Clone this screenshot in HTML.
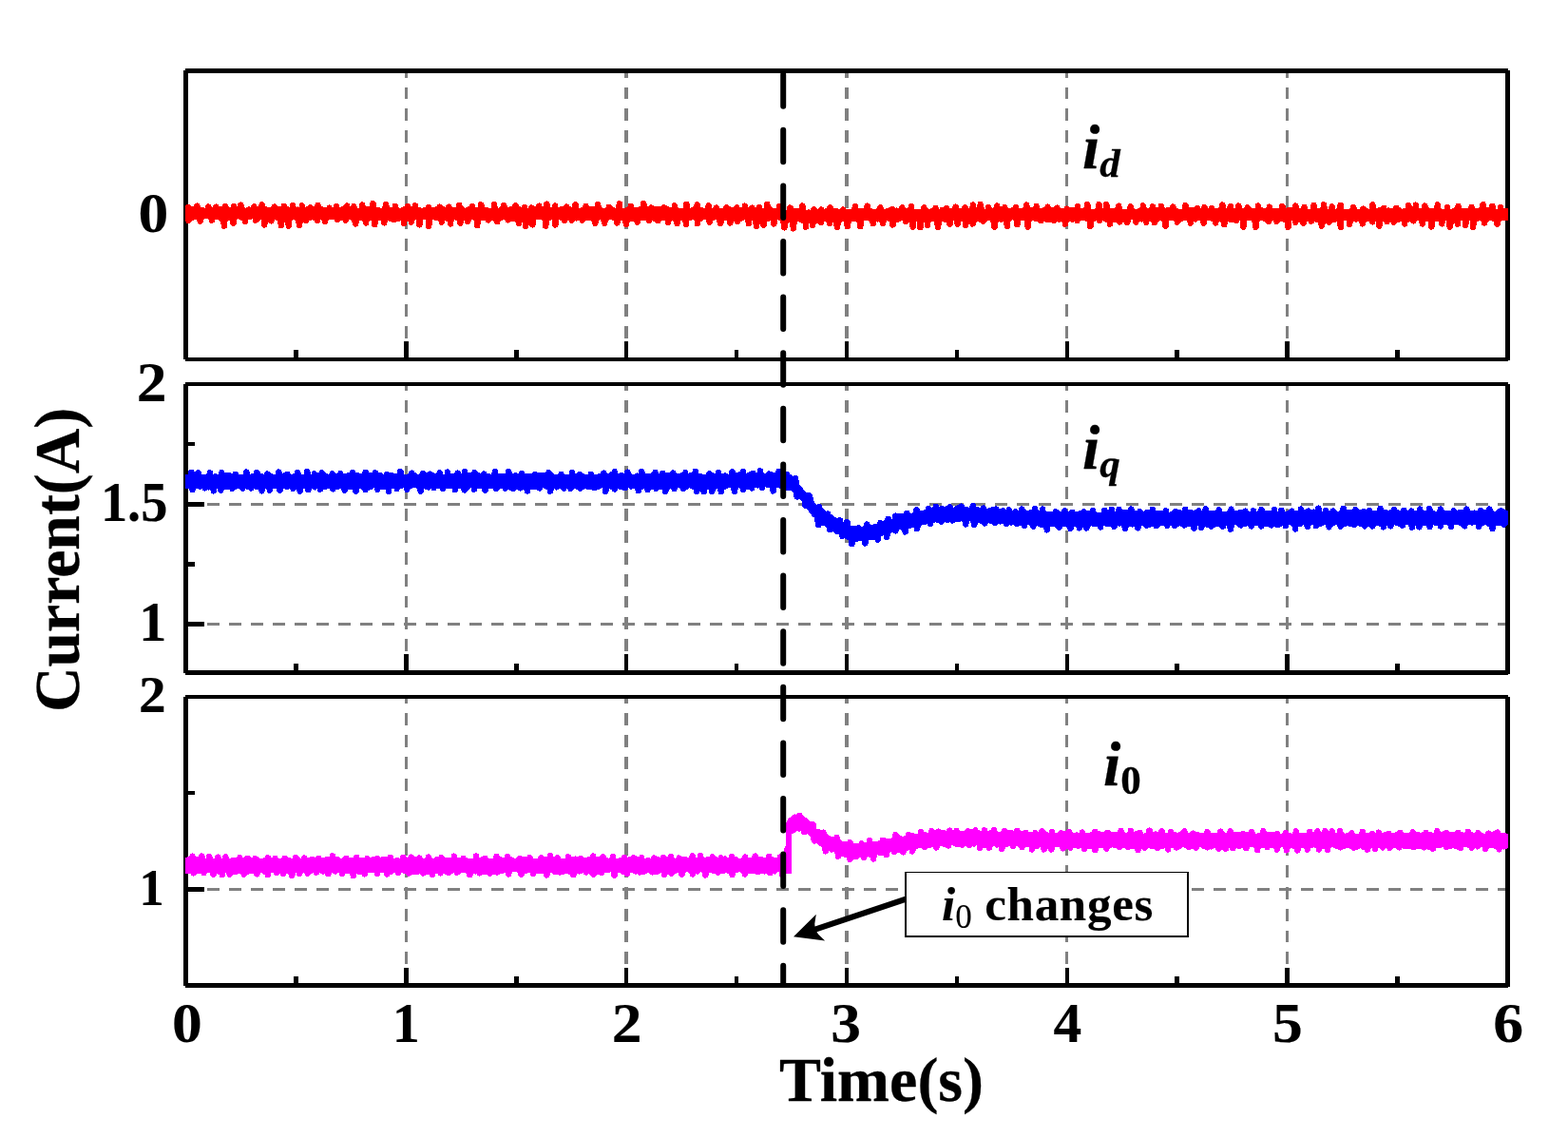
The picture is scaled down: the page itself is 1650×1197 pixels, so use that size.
<!DOCTYPE html>
<html lang="en">
<head>
<meta charset="utf-8">
<title>Current response: i_d, i_q, i_0</title>
<style>
html,body{margin:0;padding:0;background:#fff;}
body{width:1650px;height:1197px;overflow:hidden;}
svg{display:block;}
svg text{font-family:"Liberation Serif",serif;font-weight:bold;fill:#000;stroke:#000;stroke-width:0.3px;stroke-linejoin:round;}
svg text.tk{stroke-width:0.15px;}
svg text.an{stroke-width:0.1px;}
</style>
</head>
<body>
<svg width="1650" height="1197" viewBox="0 0 1650 1197">
<defs><clipPath id="plotclip"><rect x="195" y="60" width="1392" height="1000"/></clipPath></defs>
<rect x="0" y="0" width="1650" height="1197" fill="#fff"/>
<!-- grid -->
<g shape-rendering="crispEdges">
<rect x="426" y="366" width="3" height="10" fill="#808080"/>
<rect x="426" y="343" width="3" height="13" fill="#808080"/>
<rect x="426" y="320" width="3" height="13" fill="#808080"/>
<rect x="426" y="297" width="3" height="13" fill="#808080"/>
<rect x="426" y="274" width="3" height="13" fill="#808080"/>
<rect x="426" y="251" width="3" height="13" fill="#808080"/>
<rect x="426" y="229" width="3" height="12" fill="#808080"/>
<rect x="426" y="206" width="3" height="13" fill="#808080"/>
<rect x="426" y="183" width="3" height="13" fill="#808080"/>
<rect x="426" y="160" width="3" height="13" fill="#808080"/>
<rect x="426" y="137" width="3" height="13" fill="#808080"/>
<rect x="426" y="114" width="3" height="13" fill="#808080"/>
<rect x="426" y="92" width="3" height="12" fill="#808080"/>
<rect x="426" y="77" width="3" height="5" fill="#808080"/>
<rect x="657" y="366" width="4" height="10" fill="#808080"/>
<rect x="657" y="343" width="4" height="13" fill="#808080"/>
<rect x="657" y="320" width="4" height="13" fill="#808080"/>
<rect x="657" y="297" width="4" height="13" fill="#808080"/>
<rect x="657" y="274" width="4" height="13" fill="#808080"/>
<rect x="657" y="251" width="4" height="13" fill="#808080"/>
<rect x="657" y="229" width="4" height="12" fill="#808080"/>
<rect x="657" y="206" width="4" height="13" fill="#808080"/>
<rect x="657" y="183" width="4" height="13" fill="#808080"/>
<rect x="657" y="160" width="4" height="13" fill="#808080"/>
<rect x="657" y="137" width="4" height="13" fill="#808080"/>
<rect x="657" y="114" width="4" height="13" fill="#808080"/>
<rect x="657" y="92" width="4" height="12" fill="#808080"/>
<rect x="657" y="77" width="4" height="5" fill="#808080"/>
<rect x="889" y="366" width="4" height="10" fill="#808080"/>
<rect x="889" y="343" width="4" height="13" fill="#808080"/>
<rect x="889" y="320" width="4" height="13" fill="#808080"/>
<rect x="889" y="297" width="4" height="13" fill="#808080"/>
<rect x="889" y="274" width="4" height="13" fill="#808080"/>
<rect x="889" y="251" width="4" height="13" fill="#808080"/>
<rect x="889" y="229" width="4" height="12" fill="#808080"/>
<rect x="889" y="206" width="4" height="13" fill="#808080"/>
<rect x="889" y="183" width="4" height="13" fill="#808080"/>
<rect x="889" y="160" width="4" height="13" fill="#808080"/>
<rect x="889" y="137" width="4" height="13" fill="#808080"/>
<rect x="889" y="114" width="4" height="13" fill="#808080"/>
<rect x="889" y="92" width="4" height="12" fill="#808080"/>
<rect x="889" y="77" width="4" height="5" fill="#808080"/>
<rect x="1121" y="366" width="3" height="10" fill="#808080"/>
<rect x="1121" y="343" width="3" height="13" fill="#808080"/>
<rect x="1121" y="320" width="3" height="13" fill="#808080"/>
<rect x="1121" y="297" width="3" height="13" fill="#808080"/>
<rect x="1121" y="274" width="3" height="13" fill="#808080"/>
<rect x="1121" y="251" width="3" height="13" fill="#808080"/>
<rect x="1121" y="229" width="3" height="12" fill="#808080"/>
<rect x="1121" y="206" width="3" height="13" fill="#808080"/>
<rect x="1121" y="183" width="3" height="13" fill="#808080"/>
<rect x="1121" y="160" width="3" height="13" fill="#808080"/>
<rect x="1121" y="137" width="3" height="13" fill="#808080"/>
<rect x="1121" y="114" width="3" height="13" fill="#808080"/>
<rect x="1121" y="92" width="3" height="12" fill="#808080"/>
<rect x="1121" y="77" width="3" height="5" fill="#808080"/>
<rect x="1353" y="366" width="3" height="10" fill="#808080"/>
<rect x="1353" y="343" width="3" height="13" fill="#808080"/>
<rect x="1353" y="320" width="3" height="13" fill="#808080"/>
<rect x="1353" y="297" width="3" height="13" fill="#808080"/>
<rect x="1353" y="274" width="3" height="13" fill="#808080"/>
<rect x="1353" y="251" width="3" height="13" fill="#808080"/>
<rect x="1353" y="229" width="3" height="12" fill="#808080"/>
<rect x="1353" y="206" width="3" height="13" fill="#808080"/>
<rect x="1353" y="183" width="3" height="13" fill="#808080"/>
<rect x="1353" y="160" width="3" height="13" fill="#808080"/>
<rect x="1353" y="137" width="3" height="13" fill="#808080"/>
<rect x="1353" y="114" width="3" height="13" fill="#808080"/>
<rect x="1353" y="92" width="3" height="12" fill="#808080"/>
<rect x="1353" y="77" width="3" height="5" fill="#808080"/>
<rect x="198" y="224" width="10" height="3" fill="#808080"/>
<rect x="218" y="224" width="13" height="3" fill="#808080"/>
<rect x="241" y="224" width="13" height="3" fill="#808080"/>
<rect x="264" y="224" width="13" height="3" fill="#808080"/>
<rect x="287" y="224" width="13" height="3" fill="#808080"/>
<rect x="310" y="224" width="13" height="3" fill="#808080"/>
<rect x="333" y="224" width="13" height="3" fill="#808080"/>
<rect x="356" y="224" width="13" height="3" fill="#808080"/>
<rect x="379" y="224" width="13" height="3" fill="#808080"/>
<rect x="402" y="224" width="13" height="3" fill="#808080"/>
<rect x="425" y="224" width="13" height="3" fill="#808080"/>
<rect x="448" y="224" width="13" height="3" fill="#808080"/>
<rect x="471" y="224" width="13" height="3" fill="#808080"/>
<rect x="494" y="224" width="13" height="3" fill="#808080"/>
<rect x="517" y="224" width="13" height="3" fill="#808080"/>
<rect x="540" y="224" width="13" height="3" fill="#808080"/>
<rect x="563" y="224" width="13" height="3" fill="#808080"/>
<rect x="586" y="224" width="13" height="3" fill="#808080"/>
<rect x="609" y="224" width="13" height="3" fill="#808080"/>
<rect x="632" y="224" width="13" height="3" fill="#808080"/>
<rect x="655" y="224" width="13" height="3" fill="#808080"/>
<rect x="678" y="224" width="13" height="3" fill="#808080"/>
<rect x="701" y="224" width="13" height="3" fill="#808080"/>
<rect x="724" y="224" width="13" height="3" fill="#808080"/>
<rect x="747" y="224" width="13" height="3" fill="#808080"/>
<rect x="770" y="224" width="13" height="3" fill="#808080"/>
<rect x="794" y="224" width="13" height="3" fill="#808080"/>
<rect x="817" y="224" width="13" height="3" fill="#808080"/>
<rect x="840" y="224" width="13" height="3" fill="#808080"/>
<rect x="863" y="224" width="13" height="3" fill="#808080"/>
<rect x="886" y="224" width="13" height="3" fill="#808080"/>
<rect x="909" y="224" width="13" height="3" fill="#808080"/>
<rect x="932" y="224" width="13" height="3" fill="#808080"/>
<rect x="955" y="224" width="13" height="3" fill="#808080"/>
<rect x="978" y="224" width="13" height="3" fill="#808080"/>
<rect x="1001" y="224" width="13" height="3" fill="#808080"/>
<rect x="1024" y="224" width="13" height="3" fill="#808080"/>
<rect x="1047" y="224" width="13" height="3" fill="#808080"/>
<rect x="1070" y="224" width="13" height="3" fill="#808080"/>
<rect x="1093" y="224" width="13" height="3" fill="#808080"/>
<rect x="1116" y="224" width="13" height="3" fill="#808080"/>
<rect x="1139" y="224" width="13" height="3" fill="#808080"/>
<rect x="1162" y="224" width="13" height="3" fill="#808080"/>
<rect x="1185" y="224" width="13" height="3" fill="#808080"/>
<rect x="1208" y="224" width="13" height="3" fill="#808080"/>
<rect x="1231" y="224" width="13" height="3" fill="#808080"/>
<rect x="1254" y="224" width="13" height="3" fill="#808080"/>
<rect x="1277" y="224" width="13" height="3" fill="#808080"/>
<rect x="1300" y="224" width="13" height="3" fill="#808080"/>
<rect x="1323" y="224" width="13" height="3" fill="#808080"/>
<rect x="1346" y="224" width="13" height="3" fill="#808080"/>
<rect x="1369" y="224" width="13" height="3" fill="#808080"/>
<rect x="1392" y="224" width="13" height="3" fill="#808080"/>
<rect x="1415" y="224" width="13" height="3" fill="#808080"/>
<rect x="1438" y="224" width="13" height="3" fill="#808080"/>
<rect x="1461" y="224" width="13" height="3" fill="#808080"/>
<rect x="1484" y="224" width="13" height="3" fill="#808080"/>
<rect x="1507" y="224" width="13" height="3" fill="#808080"/>
<rect x="1530" y="224" width="13" height="3" fill="#808080"/>
<rect x="1553" y="224" width="13" height="3" fill="#808080"/>
<rect x="1576" y="224" width="8" height="3" fill="#808080"/>
<rect x="426" y="695" width="3" height="10" fill="#808080"/>
<rect x="426" y="672" width="3" height="13" fill="#808080"/>
<rect x="426" y="649" width="3" height="13" fill="#808080"/>
<rect x="426" y="627" width="3" height="12" fill="#808080"/>
<rect x="426" y="604" width="3" height="13" fill="#808080"/>
<rect x="426" y="581" width="3" height="13" fill="#808080"/>
<rect x="426" y="558" width="3" height="13" fill="#808080"/>
<rect x="426" y="535" width="3" height="13" fill="#808080"/>
<rect x="426" y="512" width="3" height="13" fill="#808080"/>
<rect x="426" y="490" width="3" height="12" fill="#808080"/>
<rect x="426" y="467" width="3" height="13" fill="#808080"/>
<rect x="426" y="444" width="3" height="13" fill="#808080"/>
<rect x="426" y="421" width="3" height="13" fill="#808080"/>
<rect x="426" y="406" width="3" height="5" fill="#808080"/>
<rect x="657" y="695" width="4" height="10" fill="#808080"/>
<rect x="657" y="672" width="4" height="13" fill="#808080"/>
<rect x="657" y="649" width="4" height="13" fill="#808080"/>
<rect x="657" y="627" width="4" height="12" fill="#808080"/>
<rect x="657" y="604" width="4" height="13" fill="#808080"/>
<rect x="657" y="581" width="4" height="13" fill="#808080"/>
<rect x="657" y="558" width="4" height="13" fill="#808080"/>
<rect x="657" y="535" width="4" height="13" fill="#808080"/>
<rect x="657" y="512" width="4" height="13" fill="#808080"/>
<rect x="657" y="490" width="4" height="12" fill="#808080"/>
<rect x="657" y="467" width="4" height="13" fill="#808080"/>
<rect x="657" y="444" width="4" height="13" fill="#808080"/>
<rect x="657" y="421" width="4" height="13" fill="#808080"/>
<rect x="657" y="406" width="4" height="5" fill="#808080"/>
<rect x="889" y="695" width="4" height="10" fill="#808080"/>
<rect x="889" y="672" width="4" height="13" fill="#808080"/>
<rect x="889" y="649" width="4" height="13" fill="#808080"/>
<rect x="889" y="627" width="4" height="12" fill="#808080"/>
<rect x="889" y="604" width="4" height="13" fill="#808080"/>
<rect x="889" y="581" width="4" height="13" fill="#808080"/>
<rect x="889" y="558" width="4" height="13" fill="#808080"/>
<rect x="889" y="535" width="4" height="13" fill="#808080"/>
<rect x="889" y="512" width="4" height="13" fill="#808080"/>
<rect x="889" y="490" width="4" height="12" fill="#808080"/>
<rect x="889" y="467" width="4" height="13" fill="#808080"/>
<rect x="889" y="444" width="4" height="13" fill="#808080"/>
<rect x="889" y="421" width="4" height="13" fill="#808080"/>
<rect x="889" y="406" width="4" height="5" fill="#808080"/>
<rect x="1121" y="695" width="3" height="10" fill="#808080"/>
<rect x="1121" y="672" width="3" height="13" fill="#808080"/>
<rect x="1121" y="649" width="3" height="13" fill="#808080"/>
<rect x="1121" y="627" width="3" height="12" fill="#808080"/>
<rect x="1121" y="604" width="3" height="13" fill="#808080"/>
<rect x="1121" y="581" width="3" height="13" fill="#808080"/>
<rect x="1121" y="558" width="3" height="13" fill="#808080"/>
<rect x="1121" y="535" width="3" height="13" fill="#808080"/>
<rect x="1121" y="512" width="3" height="13" fill="#808080"/>
<rect x="1121" y="490" width="3" height="12" fill="#808080"/>
<rect x="1121" y="467" width="3" height="13" fill="#808080"/>
<rect x="1121" y="444" width="3" height="13" fill="#808080"/>
<rect x="1121" y="421" width="3" height="13" fill="#808080"/>
<rect x="1121" y="406" width="3" height="5" fill="#808080"/>
<rect x="1353" y="695" width="3" height="10" fill="#808080"/>
<rect x="1353" y="672" width="3" height="13" fill="#808080"/>
<rect x="1353" y="649" width="3" height="13" fill="#808080"/>
<rect x="1353" y="627" width="3" height="12" fill="#808080"/>
<rect x="1353" y="604" width="3" height="13" fill="#808080"/>
<rect x="1353" y="581" width="3" height="13" fill="#808080"/>
<rect x="1353" y="558" width="3" height="13" fill="#808080"/>
<rect x="1353" y="535" width="3" height="13" fill="#808080"/>
<rect x="1353" y="512" width="3" height="13" fill="#808080"/>
<rect x="1353" y="490" width="3" height="12" fill="#808080"/>
<rect x="1353" y="467" width="3" height="13" fill="#808080"/>
<rect x="1353" y="444" width="3" height="13" fill="#808080"/>
<rect x="1353" y="421" width="3" height="13" fill="#808080"/>
<rect x="1353" y="406" width="3" height="5" fill="#808080"/>
<rect x="198" y="529" width="10" height="3" fill="#808080"/>
<rect x="218" y="529" width="13" height="3" fill="#808080"/>
<rect x="241" y="529" width="13" height="3" fill="#808080"/>
<rect x="264" y="529" width="13" height="3" fill="#808080"/>
<rect x="287" y="529" width="13" height="3" fill="#808080"/>
<rect x="310" y="529" width="13" height="3" fill="#808080"/>
<rect x="333" y="529" width="13" height="3" fill="#808080"/>
<rect x="356" y="529" width="13" height="3" fill="#808080"/>
<rect x="379" y="529" width="13" height="3" fill="#808080"/>
<rect x="402" y="529" width="13" height="3" fill="#808080"/>
<rect x="425" y="529" width="13" height="3" fill="#808080"/>
<rect x="448" y="529" width="13" height="3" fill="#808080"/>
<rect x="471" y="529" width="13" height="3" fill="#808080"/>
<rect x="494" y="529" width="13" height="3" fill="#808080"/>
<rect x="517" y="529" width="13" height="3" fill="#808080"/>
<rect x="540" y="529" width="13" height="3" fill="#808080"/>
<rect x="563" y="529" width="13" height="3" fill="#808080"/>
<rect x="586" y="529" width="13" height="3" fill="#808080"/>
<rect x="609" y="529" width="13" height="3" fill="#808080"/>
<rect x="632" y="529" width="13" height="3" fill="#808080"/>
<rect x="655" y="529" width="13" height="3" fill="#808080"/>
<rect x="678" y="529" width="13" height="3" fill="#808080"/>
<rect x="701" y="529" width="13" height="3" fill="#808080"/>
<rect x="724" y="529" width="13" height="3" fill="#808080"/>
<rect x="747" y="529" width="13" height="3" fill="#808080"/>
<rect x="770" y="529" width="13" height="3" fill="#808080"/>
<rect x="794" y="529" width="13" height="3" fill="#808080"/>
<rect x="817" y="529" width="13" height="3" fill="#808080"/>
<rect x="840" y="529" width="13" height="3" fill="#808080"/>
<rect x="863" y="529" width="13" height="3" fill="#808080"/>
<rect x="886" y="529" width="13" height="3" fill="#808080"/>
<rect x="909" y="529" width="13" height="3" fill="#808080"/>
<rect x="932" y="529" width="13" height="3" fill="#808080"/>
<rect x="955" y="529" width="13" height="3" fill="#808080"/>
<rect x="978" y="529" width="13" height="3" fill="#808080"/>
<rect x="1001" y="529" width="13" height="3" fill="#808080"/>
<rect x="1024" y="529" width="13" height="3" fill="#808080"/>
<rect x="1047" y="529" width="13" height="3" fill="#808080"/>
<rect x="1070" y="529" width="13" height="3" fill="#808080"/>
<rect x="1093" y="529" width="13" height="3" fill="#808080"/>
<rect x="1116" y="529" width="13" height="3" fill="#808080"/>
<rect x="1139" y="529" width="13" height="3" fill="#808080"/>
<rect x="1162" y="529" width="13" height="3" fill="#808080"/>
<rect x="1185" y="529" width="13" height="3" fill="#808080"/>
<rect x="1208" y="529" width="13" height="3" fill="#808080"/>
<rect x="1231" y="529" width="13" height="3" fill="#808080"/>
<rect x="1254" y="529" width="13" height="3" fill="#808080"/>
<rect x="1277" y="529" width="13" height="3" fill="#808080"/>
<rect x="1300" y="529" width="13" height="3" fill="#808080"/>
<rect x="1323" y="529" width="13" height="3" fill="#808080"/>
<rect x="1346" y="529" width="13" height="3" fill="#808080"/>
<rect x="1369" y="529" width="13" height="3" fill="#808080"/>
<rect x="1392" y="529" width="13" height="3" fill="#808080"/>
<rect x="1415" y="529" width="13" height="3" fill="#808080"/>
<rect x="1438" y="529" width="13" height="3" fill="#808080"/>
<rect x="1461" y="529" width="13" height="3" fill="#808080"/>
<rect x="1484" y="529" width="13" height="3" fill="#808080"/>
<rect x="1507" y="529" width="13" height="3" fill="#808080"/>
<rect x="1530" y="529" width="13" height="3" fill="#808080"/>
<rect x="1553" y="529" width="13" height="3" fill="#808080"/>
<rect x="1576" y="529" width="8" height="3" fill="#808080"/>
<rect x="198" y="655" width="10" height="3" fill="#808080"/>
<rect x="218" y="655" width="13" height="3" fill="#808080"/>
<rect x="241" y="655" width="13" height="3" fill="#808080"/>
<rect x="264" y="655" width="13" height="3" fill="#808080"/>
<rect x="287" y="655" width="13" height="3" fill="#808080"/>
<rect x="310" y="655" width="13" height="3" fill="#808080"/>
<rect x="333" y="655" width="13" height="3" fill="#808080"/>
<rect x="356" y="655" width="13" height="3" fill="#808080"/>
<rect x="379" y="655" width="13" height="3" fill="#808080"/>
<rect x="402" y="655" width="13" height="3" fill="#808080"/>
<rect x="425" y="655" width="13" height="3" fill="#808080"/>
<rect x="448" y="655" width="13" height="3" fill="#808080"/>
<rect x="471" y="655" width="13" height="3" fill="#808080"/>
<rect x="494" y="655" width="13" height="3" fill="#808080"/>
<rect x="517" y="655" width="13" height="3" fill="#808080"/>
<rect x="540" y="655" width="13" height="3" fill="#808080"/>
<rect x="563" y="655" width="13" height="3" fill="#808080"/>
<rect x="586" y="655" width="13" height="3" fill="#808080"/>
<rect x="609" y="655" width="13" height="3" fill="#808080"/>
<rect x="632" y="655" width="13" height="3" fill="#808080"/>
<rect x="655" y="655" width="13" height="3" fill="#808080"/>
<rect x="678" y="655" width="13" height="3" fill="#808080"/>
<rect x="701" y="655" width="13" height="3" fill="#808080"/>
<rect x="724" y="655" width="13" height="3" fill="#808080"/>
<rect x="747" y="655" width="13" height="3" fill="#808080"/>
<rect x="770" y="655" width="13" height="3" fill="#808080"/>
<rect x="794" y="655" width="13" height="3" fill="#808080"/>
<rect x="817" y="655" width="13" height="3" fill="#808080"/>
<rect x="840" y="655" width="13" height="3" fill="#808080"/>
<rect x="863" y="655" width="13" height="3" fill="#808080"/>
<rect x="886" y="655" width="13" height="3" fill="#808080"/>
<rect x="909" y="655" width="13" height="3" fill="#808080"/>
<rect x="932" y="655" width="13" height="3" fill="#808080"/>
<rect x="955" y="655" width="13" height="3" fill="#808080"/>
<rect x="978" y="655" width="13" height="3" fill="#808080"/>
<rect x="1001" y="655" width="13" height="3" fill="#808080"/>
<rect x="1024" y="655" width="13" height="3" fill="#808080"/>
<rect x="1047" y="655" width="13" height="3" fill="#808080"/>
<rect x="1070" y="655" width="13" height="3" fill="#808080"/>
<rect x="1093" y="655" width="13" height="3" fill="#808080"/>
<rect x="1116" y="655" width="13" height="3" fill="#808080"/>
<rect x="1139" y="655" width="13" height="3" fill="#808080"/>
<rect x="1162" y="655" width="13" height="3" fill="#808080"/>
<rect x="1185" y="655" width="13" height="3" fill="#808080"/>
<rect x="1208" y="655" width="13" height="3" fill="#808080"/>
<rect x="1231" y="655" width="13" height="3" fill="#808080"/>
<rect x="1254" y="655" width="13" height="3" fill="#808080"/>
<rect x="1277" y="655" width="13" height="3" fill="#808080"/>
<rect x="1300" y="655" width="13" height="3" fill="#808080"/>
<rect x="1323" y="655" width="13" height="3" fill="#808080"/>
<rect x="1346" y="655" width="13" height="3" fill="#808080"/>
<rect x="1369" y="655" width="13" height="3" fill="#808080"/>
<rect x="1392" y="655" width="13" height="3" fill="#808080"/>
<rect x="1415" y="655" width="13" height="3" fill="#808080"/>
<rect x="1438" y="655" width="13" height="3" fill="#808080"/>
<rect x="1461" y="655" width="13" height="3" fill="#808080"/>
<rect x="1484" y="655" width="13" height="3" fill="#808080"/>
<rect x="1507" y="655" width="13" height="3" fill="#808080"/>
<rect x="1530" y="655" width="13" height="3" fill="#808080"/>
<rect x="1553" y="655" width="13" height="3" fill="#808080"/>
<rect x="1576" y="655" width="8" height="3" fill="#808080"/>
<rect x="426" y="1024" width="3" height="10" fill="#808080"/>
<rect x="426" y="1001" width="3" height="13" fill="#808080"/>
<rect x="426" y="979" width="3" height="12" fill="#808080"/>
<rect x="426" y="956" width="3" height="13" fill="#808080"/>
<rect x="426" y="933" width="3" height="13" fill="#808080"/>
<rect x="426" y="910" width="3" height="13" fill="#808080"/>
<rect x="426" y="887" width="3" height="13" fill="#808080"/>
<rect x="426" y="864" width="3" height="13" fill="#808080"/>
<rect x="426" y="842" width="3" height="12" fill="#808080"/>
<rect x="426" y="819" width="3" height="13" fill="#808080"/>
<rect x="426" y="796" width="3" height="13" fill="#808080"/>
<rect x="426" y="773" width="3" height="13" fill="#808080"/>
<rect x="426" y="750" width="3" height="13" fill="#808080"/>
<rect x="426" y="735" width="3" height="5" fill="#808080"/>
<rect x="657" y="1024" width="4" height="10" fill="#808080"/>
<rect x="657" y="1001" width="4" height="13" fill="#808080"/>
<rect x="657" y="979" width="4" height="12" fill="#808080"/>
<rect x="657" y="956" width="4" height="13" fill="#808080"/>
<rect x="657" y="933" width="4" height="13" fill="#808080"/>
<rect x="657" y="910" width="4" height="13" fill="#808080"/>
<rect x="657" y="887" width="4" height="13" fill="#808080"/>
<rect x="657" y="864" width="4" height="13" fill="#808080"/>
<rect x="657" y="842" width="4" height="12" fill="#808080"/>
<rect x="657" y="819" width="4" height="13" fill="#808080"/>
<rect x="657" y="796" width="4" height="13" fill="#808080"/>
<rect x="657" y="773" width="4" height="13" fill="#808080"/>
<rect x="657" y="750" width="4" height="13" fill="#808080"/>
<rect x="657" y="735" width="4" height="5" fill="#808080"/>
<rect x="889" y="1024" width="4" height="10" fill="#808080"/>
<rect x="889" y="1001" width="4" height="13" fill="#808080"/>
<rect x="889" y="979" width="4" height="12" fill="#808080"/>
<rect x="889" y="956" width="4" height="13" fill="#808080"/>
<rect x="889" y="933" width="4" height="13" fill="#808080"/>
<rect x="889" y="910" width="4" height="13" fill="#808080"/>
<rect x="889" y="887" width="4" height="13" fill="#808080"/>
<rect x="889" y="864" width="4" height="13" fill="#808080"/>
<rect x="889" y="842" width="4" height="12" fill="#808080"/>
<rect x="889" y="819" width="4" height="13" fill="#808080"/>
<rect x="889" y="796" width="4" height="13" fill="#808080"/>
<rect x="889" y="773" width="4" height="13" fill="#808080"/>
<rect x="889" y="750" width="4" height="13" fill="#808080"/>
<rect x="889" y="735" width="4" height="5" fill="#808080"/>
<rect x="1121" y="1024" width="3" height="10" fill="#808080"/>
<rect x="1121" y="1001" width="3" height="13" fill="#808080"/>
<rect x="1121" y="979" width="3" height="12" fill="#808080"/>
<rect x="1121" y="956" width="3" height="13" fill="#808080"/>
<rect x="1121" y="933" width="3" height="13" fill="#808080"/>
<rect x="1121" y="910" width="3" height="13" fill="#808080"/>
<rect x="1121" y="887" width="3" height="13" fill="#808080"/>
<rect x="1121" y="864" width="3" height="13" fill="#808080"/>
<rect x="1121" y="842" width="3" height="12" fill="#808080"/>
<rect x="1121" y="819" width="3" height="13" fill="#808080"/>
<rect x="1121" y="796" width="3" height="13" fill="#808080"/>
<rect x="1121" y="773" width="3" height="13" fill="#808080"/>
<rect x="1121" y="750" width="3" height="13" fill="#808080"/>
<rect x="1121" y="735" width="3" height="5" fill="#808080"/>
<rect x="1353" y="1024" width="3" height="10" fill="#808080"/>
<rect x="1353" y="1001" width="3" height="13" fill="#808080"/>
<rect x="1353" y="979" width="3" height="12" fill="#808080"/>
<rect x="1353" y="956" width="3" height="13" fill="#808080"/>
<rect x="1353" y="933" width="3" height="13" fill="#808080"/>
<rect x="1353" y="910" width="3" height="13" fill="#808080"/>
<rect x="1353" y="887" width="3" height="13" fill="#808080"/>
<rect x="1353" y="864" width="3" height="13" fill="#808080"/>
<rect x="1353" y="842" width="3" height="12" fill="#808080"/>
<rect x="1353" y="819" width="3" height="13" fill="#808080"/>
<rect x="1353" y="796" width="3" height="13" fill="#808080"/>
<rect x="1353" y="773" width="3" height="13" fill="#808080"/>
<rect x="1353" y="750" width="3" height="13" fill="#808080"/>
<rect x="1353" y="735" width="3" height="5" fill="#808080"/>
<rect x="198" y="934" width="10" height="3" fill="#808080"/>
<rect x="218" y="934" width="13" height="3" fill="#808080"/>
<rect x="241" y="934" width="13" height="3" fill="#808080"/>
<rect x="264" y="934" width="13" height="3" fill="#808080"/>
<rect x="287" y="934" width="13" height="3" fill="#808080"/>
<rect x="310" y="934" width="13" height="3" fill="#808080"/>
<rect x="333" y="934" width="13" height="3" fill="#808080"/>
<rect x="356" y="934" width="13" height="3" fill="#808080"/>
<rect x="379" y="934" width="13" height="3" fill="#808080"/>
<rect x="402" y="934" width="13" height="3" fill="#808080"/>
<rect x="425" y="934" width="13" height="3" fill="#808080"/>
<rect x="448" y="934" width="13" height="3" fill="#808080"/>
<rect x="471" y="934" width="13" height="3" fill="#808080"/>
<rect x="494" y="934" width="13" height="3" fill="#808080"/>
<rect x="517" y="934" width="13" height="3" fill="#808080"/>
<rect x="540" y="934" width="13" height="3" fill="#808080"/>
<rect x="563" y="934" width="13" height="3" fill="#808080"/>
<rect x="586" y="934" width="13" height="3" fill="#808080"/>
<rect x="609" y="934" width="13" height="3" fill="#808080"/>
<rect x="632" y="934" width="13" height="3" fill="#808080"/>
<rect x="655" y="934" width="13" height="3" fill="#808080"/>
<rect x="678" y="934" width="13" height="3" fill="#808080"/>
<rect x="701" y="934" width="13" height="3" fill="#808080"/>
<rect x="724" y="934" width="13" height="3" fill="#808080"/>
<rect x="747" y="934" width="13" height="3" fill="#808080"/>
<rect x="770" y="934" width="13" height="3" fill="#808080"/>
<rect x="794" y="934" width="13" height="3" fill="#808080"/>
<rect x="817" y="934" width="13" height="3" fill="#808080"/>
<rect x="840" y="934" width="13" height="3" fill="#808080"/>
<rect x="863" y="934" width="13" height="3" fill="#808080"/>
<rect x="886" y="934" width="13" height="3" fill="#808080"/>
<rect x="909" y="934" width="13" height="3" fill="#808080"/>
<rect x="932" y="934" width="13" height="3" fill="#808080"/>
<rect x="955" y="934" width="13" height="3" fill="#808080"/>
<rect x="978" y="934" width="13" height="3" fill="#808080"/>
<rect x="1001" y="934" width="13" height="3" fill="#808080"/>
<rect x="1024" y="934" width="13" height="3" fill="#808080"/>
<rect x="1047" y="934" width="13" height="3" fill="#808080"/>
<rect x="1070" y="934" width="13" height="3" fill="#808080"/>
<rect x="1093" y="934" width="13" height="3" fill="#808080"/>
<rect x="1116" y="934" width="13" height="3" fill="#808080"/>
<rect x="1139" y="934" width="13" height="3" fill="#808080"/>
<rect x="1162" y="934" width="13" height="3" fill="#808080"/>
<rect x="1185" y="934" width="13" height="3" fill="#808080"/>
<rect x="1208" y="934" width="13" height="3" fill="#808080"/>
<rect x="1231" y="934" width="13" height="3" fill="#808080"/>
<rect x="1254" y="934" width="13" height="3" fill="#808080"/>
<rect x="1277" y="934" width="13" height="3" fill="#808080"/>
<rect x="1300" y="934" width="13" height="3" fill="#808080"/>
<rect x="1323" y="934" width="13" height="3" fill="#808080"/>
<rect x="1346" y="934" width="13" height="3" fill="#808080"/>
<rect x="1369" y="934" width="13" height="3" fill="#808080"/>
<rect x="1392" y="934" width="13" height="3" fill="#808080"/>
<rect x="1415" y="934" width="13" height="3" fill="#808080"/>
<rect x="1438" y="934" width="13" height="3" fill="#808080"/>
<rect x="1461" y="934" width="13" height="3" fill="#808080"/>
<rect x="1484" y="934" width="13" height="3" fill="#808080"/>
<rect x="1507" y="934" width="13" height="3" fill="#808080"/>
<rect x="1530" y="934" width="13" height="3" fill="#808080"/>
<rect x="1553" y="934" width="13" height="3" fill="#808080"/>
<rect x="1576" y="934" width="8" height="3" fill="#808080"/>
</g>
<!-- frames and ticks -->
<g shape-rendering="crispEdges">
<rect x="195" y="72" width="1392" height="5" fill="#000"/>
<rect x="195" y="376" width="1392" height="4" fill="#000"/>
<rect x="193" y="74" width="5" height="304" fill="#000"/>
<rect x="1584" y="74" width="5" height="305" fill="#000"/>
<rect x="309" y="368" width="5" height="8" fill="#000"/>
<rect x="425" y="359" width="5" height="17" fill="#000"/>
<rect x="541" y="368" width="5" height="8" fill="#000"/>
<rect x="657" y="359" width="4" height="17" fill="#000"/>
<rect x="773" y="368" width="4" height="8" fill="#000"/>
<rect x="889" y="359" width="4" height="17" fill="#000"/>
<rect x="1005" y="368" width="4" height="8" fill="#000"/>
<rect x="1121" y="359" width="4" height="17" fill="#000"/>
<rect x="1236" y="368" width="5" height="8" fill="#000"/>
<rect x="1352" y="359" width="5" height="17" fill="#000"/>
<rect x="1468" y="368" width="5" height="8" fill="#000"/>
<rect x="198" y="224" width="17" height="5" fill="#000"/>
<rect x="195" y="402" width="1392" height="4" fill="#000"/>
<rect x="195" y="705" width="1392" height="5" fill="#000"/>
<rect x="193" y="404" width="5" height="304" fill="#000"/>
<rect x="1584" y="404" width="5" height="305" fill="#000"/>
<rect x="309" y="698" width="5" height="7" fill="#000"/>
<rect x="425" y="688" width="5" height="17" fill="#000"/>
<rect x="541" y="698" width="5" height="7" fill="#000"/>
<rect x="657" y="688" width="4" height="17" fill="#000"/>
<rect x="773" y="698" width="4" height="7" fill="#000"/>
<rect x="889" y="688" width="4" height="17" fill="#000"/>
<rect x="1005" y="698" width="4" height="7" fill="#000"/>
<rect x="1121" y="688" width="4" height="17" fill="#000"/>
<rect x="1236" y="698" width="5" height="7" fill="#000"/>
<rect x="1352" y="688" width="5" height="17" fill="#000"/>
<rect x="1468" y="698" width="5" height="7" fill="#000"/>
<rect x="198" y="528" width="17" height="5" fill="#000"/>
<rect x="198" y="654" width="17" height="5" fill="#000"/>
<rect x="198" y="465" width="7" height="4" fill="#000"/>
<rect x="198" y="591" width="7" height="5" fill="#000"/>
<rect x="195" y="731" width="1392" height="4" fill="#000"/>
<rect x="195" y="1034" width="1392" height="5" fill="#000"/>
<rect x="193" y="733" width="5" height="304" fill="#000"/>
<rect x="1584" y="733" width="5" height="305" fill="#000"/>
<rect x="309" y="1027" width="5" height="7" fill="#000"/>
<rect x="425" y="1018" width="5" height="16" fill="#000"/>
<rect x="541" y="1027" width="5" height="7" fill="#000"/>
<rect x="657" y="1018" width="4" height="16" fill="#000"/>
<rect x="773" y="1027" width="4" height="7" fill="#000"/>
<rect x="889" y="1018" width="4" height="16" fill="#000"/>
<rect x="1005" y="1027" width="4" height="7" fill="#000"/>
<rect x="1121" y="1018" width="4" height="16" fill="#000"/>
<rect x="1236" y="1027" width="5" height="7" fill="#000"/>
<rect x="1352" y="1018" width="5" height="16" fill="#000"/>
<rect x="1468" y="1027" width="5" height="7" fill="#000"/>
<rect x="198" y="933" width="17" height="5" fill="#000"/>
<rect x="198" y="832" width="7" height="4" fill="#000"/>
</g>
<!-- traces -->
<g clip-path="url(#plotclip)" shape-rendering="crispEdges"><path d="M195,218.2 198.1,219.2 201.5,217.2 205.8,216.4 209,217.7 212.3,217.7 215.7,218.7 218.2,218.9 221.5,217.6 225.1,217.6 229,218.7 231.3,216.7 234,216.5 236.3,219.1 240.3,217.9 244,218.3 246.1,217.7 250.6,217.5 255,217.2 258.6,218.7 262.2,217.1 264.6,218.7 266.6,217.7 269.9,216.6 272.1,217.2 274.5,217.4 277.1,217.5 279.2,216.3 282.4,218.5 285.5,217.1 289.6,216.9 292.9,216.6 296.5,217.2 299.7,217.0 303.4,217.1 306.5,218.3 309.2,219.3 313.7,217.4 318.2,218.6 322.3,217.3 326.1,217.3 328.9,217.7 331.4,216.3 334.2,217.2 336.3,216.4 340.3,217.5 343.3,218.6 347.4,219.2 350.3,218.2 354.7,218.6 358.9,217.7 360.9,216.4 363.4,216.3 367.7,216.9 370.8,217.5 375.3,219.2 378.3,218.9 380.5,218.8 384,217.5 388,216.5 390.7,217.8 392.9,218.2 395.7,217.4 400.1,218.5 404,218.5 406.3,218.6 408.9,218.9 411.2,218.2 413.3,217.1 417.3,216.4 419.8,219.1 423.2,218.1 426.3,216.4 428.8,217.8 432.6,217.2 434.9,216.4 438.5,217.6 440.8,217.5 443.9,218.8 446.4,217.8 449.1,218.0 453.5,218.0 457.5,217.6 460.3,217.0 464.5,216.4 467,217.2 470,219.0 474.1,217.0 477.7,218.3 480,217.3 484.5,217.6 487,217.1 489.6,218.6 493.6,216.6 496.4,219.3 499.1,218.6 501.3,217.5 503.5,217.8 507,219.1 509.6,217.7 513.1,218.3 516,218.8 519.2,217.2 523.6,219.2 526.8,217.0 530.2,217.1 534.4,218.1 536.8,217.0 539.2,217.5 543.5,218.4 547.5,217.2 550.2,218.1 552.6,219.1 556.5,219.2 560.8,217.7 563.3,217.4 567.7,217.1 571.9,218.8 575.4,219.2 578.5,217.3 580.7,218.6 582.8,218.4 587.2,218.3 589.8,217.3 593.6,216.7 596.2,216.7 600.3,217.0 603.8,218.5 606.5,216.6 609,218.7 612.8,218.4 614.9,218.3 617.5,218.9 620.9,217.1 625,216.9 628.6,218.9 631.3,216.8 635.6,219.4 638.1,217.8 640.1,216.6 642.8,217.1 645.9,217.8 648,219.2 650.5,217.3 653.4,219.2 656.8,219.0 659.2,217.5 662.1,218.8 666.3,217.9 670.8,218.3 674.4,216.6 678.1,218.0 681.6,217.3 683.9,216.7 686,217.0 688.1,216.9 692.3,217.0 696.1,216.6 700.5,217.9 702.6,217.1 706.1,218.2 709.4,217.3 713.2,218.4 716,218.9 720.5,218.6 722.7,219.3 726,219.2 729.9,217.2 734.1,219.3 738,217.8 741.7,219.4 745.7,219.0 750,218.8 752.9,217.7 756.6,219.0 760.8,219.0 765,218.6 768.1,217.1 772,218.7 776.2,216.8 779.6,217.9 783.2,218.1 786.1,219.4 789.6,217.1 793.1,218.0 795.3,218.7 798.9,217.6 803.4,219.5 807.6,218.4 811.4,217.4 814.4,219.1 818.2,218.6 821.7,217.5 824.8,219.1 826,220.6 827.5,221.4 828.9,222.0 829.5,219.5 831,221.8 831.1,219.9 833,220.5 835,219.1 836,219.4 837,219.6 838,219.2 840.5,219.4 843,220.2 843.7,221.4 846.3,220.9 848,221.5 850.1,220.3 853.3,220.6 856.8,221.3 861.2,220.2 863.8,219.1 865.8,221.5 868.6,219.4 872.3,219.7 874.8,221.4 877.2,219.0 881.5,219.5 885.1,220.1 888.2,220.3 892.4,220.0 895.3,220.3 898.9,218.9 901.4,218.2 904.5,218.8 908.5,218.5 912.8,220.5 917,218.9 920,220.4 923.4,218.4 926.2,220.6 928.6,220.4 931.8,219.6 935.9,218.0 940,219.2 943.8,218.4 948.2,219.6 950.9,219.5 953.3,219.5 956.4,217.7 959.1,218.7 961.6,220.6 964.7,219.6 968.2,220.3 971.5,219.0 974.2,218.1 978.3,220.0 982.8,217.8 985.9,219.4 988.1,220.0 990.2,217.5 994.4,218.2 996.5,219.8 1000.3,218.5 1003.7,220.1 1006.5,218.6 1010.4,219.4 1012.5,219.3 1014.8,220.0 1018,219.9 1020,218.7 1024.1,218.7 1026.7,217.6 1029,217.9 1031.2,220.0 1034.7,219.5 1037.8,219.6 1041.4,217.9 1045.1,218.7 1049.1,220.3 1053.5,217.4 1057.2,218.4 1059.7,218.4 1062.9,219.2 1065.3,218.0 1067.3,219.8 1070.5,219.9 1074.3,218.7 1076.8,218.8 1079.4,218.7 1082.3,218.5 1086,218.4 1089.3,217.5 1092.9,219.0 1096.8,218.5 1099.8,218.1 1103.7,218.9 1108,217.9 1110.2,219.2 1114.6,218.7 1118.4,218.8 1120.7,219.1 1123.8,219.4 1127.4,218.2 1131.7,218.2 1134.6,218.1 1138,218.6 1142.2,220.0 1146.2,218.9 1150.6,220.2 1153.7,218.8 1157.4,219.5 1159.9,219.7 1163.7,217.7 1167.7,218.4 1171.3,219.1 1175.1,219.7 1177.7,218.7 1181.9,220.1 1186.4,220.0 1190.8,217.6 1194.1,219.7 1198.1,219.4 1200.9,217.7 1205.2,219.2 1209.3,218.7 1212.2,220.3 1214.4,219.5 1217.5,217.6 1220.9,219.0 1224.8,219.5 1228,217.7 1230.1,217.9 1234.1,219.0 1236.3,217.8 1240.3,219.8 1242.7,219.9 1245.6,220.3 1249.5,218.3 1251.9,217.7 1254.2,218.3 1257.5,218.3 1261.3,219.1 1265.4,219.8 1269.2,218.3 1273.5,219.9 1276.8,218.5 1281.1,219.3 1283.4,217.8 1285.9,219.8 1289.2,217.7 1291.9,219.6 1295.8,220.2 1299.4,219.1 1302.7,218.9 1306.8,218.7 1310.2,219.7 1313,220.2 1315.9,218.2 1320,219.6 1324.3,219.9 1326.8,217.5 1330.9,219.1 1335.3,219.3 1338.7,219.0 1342.1,218.8 1344.6,219.4 1347.9,218.1 1351.2,219.0 1354.7,218.4 1356.8,217.6 1361.2,218.1 1364.5,218.6 1367.5,219.2 1371.5,218.1 1374.9,219.8 1378.1,219.8 1381.9,219.0 1384,218.7 1387.4,218.8 1390.4,219.9 1394.8,220.4 1399.1,219.2 1401.8,219.7 1405,220.3 1407.3,218.8 1410.4,218.1 1414.4,220.1 1418.6,220.4 1421.8,218.6 1424.6,219.7 1427.1,220.2 1430.7,220.0 1435,220.0 1437.3,218.0 1441.2,220.3 1443.3,219.4 1445.8,217.6 1448.4,219.0 1452.1,217.5 1454.9,219.1 1457.8,220.4 1461.3,217.8 1463.6,219.3 1467.4,219.2 1469.7,220.4 1473,218.2 1475.6,219.8 1478.1,218.9 1481.4,219.1 1484.5,219.4 1487.5,217.6 1490.5,220.4 1493.8,218.6 1496.2,219.5 1498.7,217.9 1502.3,217.9 1505.9,219.3 1509.2,219.4 1513.4,219.9 1516.9,220.0 1521,220.0 1523.6,219.9 1527.5,219.6 1531.5,217.6 1535.7,217.9 1538.5,219.4 1541.3,218.5 1545.6,219.7 1548.2,220.0 1552.7,219.4 1556.9,218.4 1559.2,219.5 1561.8,217.7 1565.6,218.2 1568.3,217.8 1570.5,219.6 1574.6,220.3 1577.7,219.6 1581.6,219.0 1584,219.4 1587,219.5 1587,232.5 1584,232.2 1581.6,231.6 1577.7,233.8 1574.6,234.1 1570.5,232.6 1568.3,231.5 1565.6,233.6 1561.8,232.5 1559.2,231.9 1556.9,232.2 1552.7,234.2 1548.2,232.2 1545.6,231.5 1541.3,232.5 1538.5,231.7 1535.7,232.0 1531.5,233.5 1527.5,232.8 1523.6,232.8 1521,232.0 1516.9,233.1 1513.4,232.5 1509.2,233.8 1505.9,234.0 1502.3,232.8 1498.7,233.2 1496.2,233.5 1493.8,231.6 1490.5,232.6 1487.5,233.2 1484.5,232.4 1481.4,234.2 1478.1,232.1 1475.6,232.2 1473,233.6 1469.7,234.4 1467.4,231.6 1463.6,232.3 1461.3,231.8 1457.8,232.1 1454.9,233.6 1452.1,231.8 1448.4,233.7 1445.8,231.5 1443.3,232.1 1441.2,232.6 1437.3,233.8 1435,233.5 1430.7,232.2 1427.1,233.9 1424.6,233.2 1421.8,233.0 1418.6,232.3 1414.4,232.3 1410.4,232.1 1407.3,233.0 1405,234.1 1401.8,233.8 1399.1,232.7 1394.8,232.9 1390.4,231.8 1387.4,234.0 1384,233.5 1381.9,231.5 1378.1,233.1 1374.9,232.8 1371.5,233.7 1367.5,233.7 1364.5,232.1 1361.2,231.9 1356.8,231.9 1354.7,232.9 1351.2,233.9 1347.9,232.9 1344.6,233.3 1342.1,233.3 1338.7,231.9 1335.3,234.2 1330.9,233.6 1326.8,231.5 1324.3,234.1 1320,233.0 1315.9,232.1 1313,232.2 1310.2,233.8 1306.8,232.2 1302.7,231.5 1299.4,232.9 1295.8,234.3 1291.9,233.3 1289.2,233.3 1285.9,232.3 1283.4,233.1 1281.1,233.3 1276.8,233.7 1273.5,232.0 1269.2,231.9 1265.4,232.3 1261.3,231.6 1257.5,234.2 1254.2,231.7 1251.9,233.9 1249.5,232.3 1245.6,231.7 1242.7,234.0 1240.3,233.2 1236.3,234.3 1234.1,231.8 1230.1,232.4 1228,231.9 1224.8,234.1 1220.9,231.9 1217.5,234.3 1214.4,232.8 1212.2,234.0 1209.3,231.5 1205.2,232.4 1200.9,233.8 1198.1,231.5 1194.1,232.2 1190.8,231.3 1186.4,232.9 1181.9,233.7 1177.7,234.0 1175.1,233.5 1171.3,233.7 1167.7,233.9 1163.7,234.2 1159.9,231.5 1157.4,232.5 1153.7,232.0 1150.6,233.4 1146.2,232.5 1142.2,232.6 1138,231.5 1134.6,232.2 1131.7,233.1 1127.4,234.0 1123.8,231.5 1120.7,234.0 1118.4,232.9 1114.6,234.0 1110.2,232.6 1108,233.9 1103.7,234.3 1099.8,233.5 1096.8,233.4 1092.9,232.5 1089.3,233.1 1086,231.7 1082.3,231.4 1079.4,232.3 1076.8,232.1 1074.3,231.8 1070.5,232.4 1067.3,232.7 1065.3,231.3 1062.9,233.0 1059.7,233.5 1057.2,232.2 1053.5,234.1 1049.1,231.8 1045.1,231.5 1041.4,231.8 1037.8,233.0 1034.7,234.0 1031.2,233.7 1029,233.1 1026.7,234.2 1024.1,232.1 1020,232.9 1018,234.0 1014.8,234.2 1012.5,232.6 1010.4,234.0 1006.5,233.3 1003.7,232.0 1000.3,231.8 996.5,234.1 994.4,233.8 990.2,232.9 988.1,233.5 985.9,232.8 982.8,233.0 978.3,233.7 974.2,233.3 971.5,233.8 968.2,232.6 964.7,233.4 961.6,232.5 959.1,233.4 956.4,233.9 953.3,233.7 950.9,231.6 948.2,232.6 943.8,234.1 940,233.6 935.9,233.0 931.8,231.9 928.6,232.1 926.2,232.4 923.4,233.6 920,233.0 917,234.0 912.8,232.1 908.5,232.2 904.5,232.9 901.4,233.6 898.9,233.0 895.3,232.6 892.4,234.1 888.2,233.1 885.1,233.8 881.5,233.1 877.2,232.9 874.8,235.3 872.3,233.7 868.6,233.1 865.8,233.6 863.8,234.4 861.2,235.4 856.8,233.7 853.3,234.7 850.1,234.8 848,233.6 846.3,233.6 843.7,235.2 843,234.3 840.5,233.4 838,233.1 837,234.1 836,233.7 835,234.6 833,234.3 831.1,233.2 831,233.7 829.5,235.4 828.9,235.4 827.5,235.1 826,233.9 824.8,234.9 821.7,232.5 818.2,231.2 814.4,230.9 811.4,232.3 807.6,232.8 803.4,231.9 798.9,231.2 795.3,233.4 793.1,232.0 789.6,231.6 786.1,233.3 783.2,231.1 779.6,233.3 776.2,231.5 772,233.1 768.1,231.9 765,232.1 760.8,232.7 756.6,231.3 752.9,231.1 750,232.6 745.7,231.1 741.7,230.7 738,233.1 734.1,231.8 729.9,230.9 726,232.3 722.7,231.3 720.5,233.3 716,231.7 713.2,230.9 709.4,233.4 706.1,230.8 702.6,231.7 700.5,232.5 696.1,232.3 692.3,233.1 688.1,232.8 686,232.4 683.9,231.6 681.6,232.5 678.1,232.0 674.4,232.4 670.8,231.4 666.3,232.7 662.1,232.7 659.2,231.1 656.8,232.6 653.4,232.3 650.5,233.1 648,230.6 645.9,232.7 642.8,230.6 640.1,232.3 638.1,232.1 635.6,231.9 631.3,231.2 628.6,232.6 625,232.0 620.9,232.0 617.5,232.0 614.9,231.5 612.8,231.4 609,231.4 606.5,233.0 603.8,231.5 600.3,231.3 596.2,231.7 593.6,233.2 589.8,232.0 587.2,230.7 582.8,232.5 580.7,230.8 578.5,232.4 575.4,231.2 571.9,232.3 567.7,230.6 563.3,231.2 560.8,231.8 556.5,230.6 552.6,232.9 550.2,231.4 547.5,233.1 543.5,232.0 539.2,233.3 536.8,231.4 534.4,231.1 530.2,231.0 526.8,232.2 523.6,230.7 519.2,232.8 516,231.3 513.1,231.7 509.6,232.2 507,232.3 503.5,230.5 501.3,230.6 499.1,231.6 496.4,230.5 493.6,232.9 489.6,233.2 487,230.9 484.5,232.2 480,232.0 477.7,231.1 474.1,232.2 470,233.0 467,231.0 464.5,233.1 460.3,231.9 457.5,231.5 453.5,231.1 449.1,232.3 446.4,230.6 443.9,230.4 440.8,231.6 438.5,230.6 434.9,232.7 432.6,231.7 428.8,233.1 426.3,231.0 423.2,231.7 419.8,233.0 417.3,233.1 413.3,230.4 411.2,232.9 408.9,232.5 406.3,230.4 404,230.3 400.1,232.4 395.7,231.9 392.9,231.1 390.7,232.0 388,231.5 384,230.4 380.5,231.7 378.3,231.7 375.3,233.0 370.8,232.5 367.7,230.5 363.4,232.1 360.9,231.9 358.9,231.8 354.7,232.9 350.3,230.5 347.4,230.8 343.3,231.4 340.3,232.4 336.3,230.3 334.2,232.5 331.4,232.1 328.9,231.4 326.1,231.9 322.3,231.2 318.2,233.0 313.7,232.1 309.2,231.3 306.5,231.6 303.4,230.4 299.7,231.4 296.5,232.5 292.9,232.8 289.6,231.4 285.5,232.5 282.4,232.9 279.2,232.6 277.1,231.7 274.5,231.4 272.1,232.8 269.9,232.6 266.6,230.2 264.6,230.7 262.2,231.4 258.6,231.5 255,232.7 250.6,230.2 246.1,231.5 244,231.6 240.3,232.5 236.3,233.0 234,230.5 231.3,233.1 229,230.8 225.1,230.6 221.5,231.7 218.2,230.3 215.7,230.4 212.3,232.2 209,232.4 205.8,230.5 201.5,232.9 198.1,230.8 195,231.2Z" fill="#ff0000"/><path d="M196.9,224.7 L198.2,218.0 L198.6,224.7 M206.2,224.7 L207.4,216.7 L208.0,224.7 M217.8,224.7 L219.4,217.5 L220.9,224.7 M226.6,224.7 L227.4,217.7 L229.0,224.7 M235.4,224.7 L237.2,216.9 L238.0,224.7 M245.6,224.7 L246.3,217.1 L246.7,224.7 M252.1,224.7 L253.5,215.7 L255.2,224.7 M265.8,224.7 L267.3,217.3 L269.2,224.7 M274.3,224.7 L275.8,215.4 L277.8,224.7 M287.4,224.7 L288.9,217.6 L289.3,224.7 M298.5,224.7 L298.9,216.9 L299.9,224.7 M307.4,224.8 L308.2,216.4 L308.8,224.8 M317.4,224.8 L318.0,216.5 L319.5,224.8 M325.8,224.8 L326.7,218.3 L327.7,224.8 M333.2,224.8 L334.7,216.0 L336.0,224.8 M345.6,224.8 L346.6,218.7 L347.6,224.8 M353.7,224.8 L354.1,216.8 L355.3,224.8 M364.3,224.8 L365.2,216.5 L365.9,224.8 M370.4,224.8 L372.3,217.1 L373.7,224.8 M380.5,224.8 L381.2,215.6 L382.3,224.8 M391.5,224.8 L392.5,214.2 L393.8,224.8 M404.6,224.8 L406.1,215.1 L407.5,224.8 M415.1,224.8 L415.9,216.8 L417.7,224.8 M427.2,224.8 L429.1,217.0 L429.5,224.8 M436.2,224.8 L437.1,216.4 L438.0,224.8 M450.2,224.8 L450.9,218.1 L451.6,224.8 M462.4,224.8 L462.7,217.7 L463.9,224.8 M471.2,224.8 L472.4,217.7 L473.9,224.8 M481.9,224.8 L483.2,215.8 L485.0,224.8 M496.1,224.8 L497.0,217.2 L498.9,224.8 M504.7,224.8 L506.2,215.4 L507.8,224.8 M519.4,224.9 L520.0,214.9 L521.4,224.9 M529.4,224.9 L530.4,216.2 L531.2,224.9 M541.9,224.9 L542.6,216.3 L543.4,224.9 M550.7,224.9 L551.9,218.0 L552.5,224.9 M558.9,224.9 L559.4,218.5 L560.9,224.9 M565.5,224.9 L567.2,216.7 L568.3,224.9 M573.4,224.9 L575.3,214.7 L575.7,224.9 M582.3,224.9 L584.1,216.5 L585.1,224.9 M594.5,224.9 L596.1,217.7 L597.0,224.9 M603.6,224.9 L605.4,215.3 L607.2,224.9 M614.8,224.9 L616.4,216.9 L617.8,224.9 M628.7,224.9 L629.2,215.1 L630.2,224.9 M640.3,224.9 L640.9,217.8 L641.2,224.9 M649.9,224.9 L652.0,214.4 L652.5,224.9 M662.4,224.9 L663.8,216.9 L664.8,224.9 M677.0,224.9 L677.3,214.2 L678.9,224.9 M684.4,224.9 L685.2,218.7 L686.8,224.9 M698.2,224.9 L699.1,218.4 L699.5,224.9 M709.0,224.9 L709.9,216.6 L710.8,224.9 M721.7,225.0 L722.5,214.9 L723.5,225.0 M731.8,225.0 L733.8,215.3 L734.9,225.0 M744.0,225.0 L745.7,216.3 L746.3,225.0 M752.0,225.0 L753.9,218.5 L754.7,225.0 M763.5,225.0 L764.4,218.4 L764.7,225.0 M773.9,225.0 L775.3,218.3 L776.1,225.0 M782.9,225.0 L783.9,216.7 L784.7,225.0 M789.4,225.0 L791.3,218.7 L792.1,225.0 M797.6,225.0 L798.8,218.1 L800.9,225.0 M806.1,225.0 L807.2,214.8 L808.3,225.0 M819.5,225.0 L819.9,217.1 L821.2,225.0 M830.7,227.5 L831.5,218.5 L833.5,227.5 M843.4,227.3 L844.5,216.5 L846.3,227.3 M856.3,227.1 L856.6,220.3 L857.2,227.1 M863.5,227.0 L864.4,220.6 L866.1,227.0 M873.3,226.9 L873.6,218.4 L874.3,226.9 M886.1,226.7 L887.3,220.6 L889.1,226.7 M898.8,226.5 L899.9,217.0 L901.6,226.5 M910.6,226.4 L912.7,216.7 L913.1,226.4 M924.7,226.3 L926.3,218.4 L927.1,226.3 M938.3,226.2 L939.7,220.1 L940.4,226.2 M947.9,226.2 L949.4,218.4 L951.2,226.2 M958.0,226.1 L959.0,217.0 L959.8,226.1 M971.8,226.0 L972.3,218.5 L973.2,226.0 M982.8,225.9 L984.5,218.9 L985.8,225.9 M995.7,225.8 L996.2,219.0 L996.8,225.8 M1005.4,225.8 L1005.7,217.7 L1006.9,225.8 M1014.2,225.8 L1015.5,218.3 L1017.5,225.8 M1023.1,225.8 L1023.9,215.6 L1025.6,225.8 M1030.6,225.8 L1031.7,215.1 L1033.7,225.8 M1038.7,225.8 L1040.2,217.9 L1040.9,225.8 M1047.2,225.8 L1049.2,216.6 L1050.0,225.8 M1055.4,225.8 L1057.4,218.1 L1058.0,225.8 M1067.4,225.8 L1068.9,218.0 L1069.6,225.8 M1078.4,225.8 L1080.2,215.6 L1081.6,225.8 M1090.2,225.8 L1090.7,217.1 L1092.5,225.8 M1101.1,225.8 L1102.6,217.7 L1103.6,225.8 M1110.9,225.8 L1112.3,218.7 L1113.6,225.8 M1121.4,225.8 L1122.9,219.7 L1124.0,225.8 M1132.0,225.8 L1134.0,217.0 L1134.6,225.8 M1142.7,225.8 L1144.3,215.1 L1145.2,225.8 M1155.4,225.9 L1156.5,215.1 L1158.3,225.9 M1163.2,225.9 L1164.3,215.1 L1165.1,225.9 M1175.2,225.9 L1177.2,216.7 L1179.0,225.9 M1187.7,225.9 L1189.8,217.4 L1190.2,225.9 M1202.1,225.9 L1202.9,216.5 L1204.6,225.9 M1211.2,225.9 L1213.1,217.3 L1213.7,225.9 M1221.6,225.9 L1222.0,216.8 L1223.3,225.9 M1233.8,225.9 L1234.5,217.5 L1236.3,225.9 M1246.2,225.9 L1247.5,216.2 L1249.5,225.9 M1259.1,225.9 L1260.1,219.2 L1260.6,225.9 M1265.5,225.9 L1267.4,218.2 L1269.2,225.9 M1274.2,225.9 L1275.2,219.0 L1277.0,225.9 M1286.1,225.9 L1286.5,215.6 L1288.6,225.9 M1293.1,225.9 L1294.9,216.9 L1296.6,225.9 M1302.3,225.9 L1303.3,216.7 L1303.7,225.9 M1311.3,225.9 L1312.7,218.4 L1313.5,225.9 M1323.3,225.9 L1323.9,216.6 L1324.5,225.9 M1335.3,225.9 L1335.8,217.7 L1336.3,225.9 M1348.4,225.9 L1349.4,217.0 L1350.0,225.9 M1361.7,225.9 L1363.3,216.6 L1364.3,225.9 M1371.9,225.9 L1372.5,218.0 L1373.9,225.9 M1381.4,225.9 L1382.5,216.0 L1383.6,225.9 M1392.1,225.9 L1393.0,215.4 L1394.6,225.9 M1400.9,225.9 L1401.7,217.2 L1403.5,225.9 M1409.2,225.9 L1410.7,215.8 L1411.8,225.9 M1422.6,225.9 L1424.2,218.1 L1425.6,225.9 M1433.3,225.9 L1434.4,219.6 L1435.2,225.9 M1443.6,226.0 L1444.4,215.4 L1446.0,226.0 M1455.1,226.0 L1456.1,218.8 L1456.7,226.0 M1468.4,226.0 L1469.4,218.8 L1470.3,226.0 M1480.8,226.0 L1482.2,215.9 L1483.4,226.0 M1489.4,226.0 L1489.8,215.7 L1490.8,226.0 M1498.0,226.0 L1499.5,216.5 L1500.4,226.0 M1512.4,226.0 L1512.8,215.4 L1514.2,226.0 M1521.9,226.0 L1523.0,218.2 L1523.9,226.0 M1532.7,226.0 L1534.7,217.1 L1536.8,226.0 M1546.9,226.0 L1548.7,218.1 L1550.2,226.0 M1560.2,226.0 L1560.6,215.2 L1561.7,226.0 M1569.7,226.0 L1570.4,216.8 L1572.5,226.0 M1578.3,226.0 L1578.9,218.2 L1579.9,226.0 M197.0,224.7 L198.5,231.9 L199.9,224.7 M208.9,224.7 L210.7,232.6 L212.3,224.7 M222.0,224.7 L223.1,231.6 L223.5,224.7 M234.2,224.7 L236.1,237.6 L236.5,224.7 M244.3,224.7 L245.6,234.6 L246.1,224.7 M256.9,224.7 L258.1,232.9 L258.7,224.7 M268.6,224.7 L269.1,231.7 L270.3,224.7 M277.4,224.7 L278.2,236.4 L279.2,224.7 M284.4,224.7 L285.5,232.3 L286.8,224.7 M295.3,224.7 L295.8,237.0 L297.6,224.7 M302.6,224.8 L303.8,237.8 L304.9,224.8 M313.1,224.8 L315.1,237.1 L316.2,224.8 M320.4,224.8 L322.2,231.9 L323.8,224.8 M332.9,224.8 L334.2,231.9 L334.5,224.8 M339.9,224.8 L342.0,233.0 L343.4,224.8 M353.8,224.8 L354.9,231.1 L355.3,224.8 M361.8,224.8 L363.7,231.6 L364.6,224.8 M372.2,224.8 L374.1,235.6 L376.1,224.8 M383.2,224.8 L385.1,234.4 L386.1,224.8 M393.4,224.8 L394.2,236.2 L395.2,224.8 M403.3,224.8 L404.2,234.3 L405.3,224.8 M412.6,224.8 L414.4,231.2 L414.8,224.8 M424.0,224.8 L425.1,234.8 L425.8,224.8 M431.9,224.8 L432.8,233.5 L433.9,224.8 M440.2,224.8 L441.4,236.3 L441.7,224.8 M450.9,224.8 L451.2,237.9 L452.6,224.8 M463.6,224.8 L464.9,233.5 L465.9,224.8 M472.7,224.8 L474.1,235.3 L474.9,224.8 M482.9,224.8 L484.5,234.6 L484.9,224.8 M491.4,224.8 L492.2,232.7 L493.9,224.8 M501.1,224.8 L502.2,237.1 L503.0,224.8 M511.9,224.9 L513.9,231.5 L515.7,224.9 M521.4,224.9 L523.2,233.2 L524.9,224.9 M533.0,224.9 L534.7,231.3 L535.1,224.9 M544.1,224.9 L546.1,234.9 L547.5,224.9 M551.6,224.9 L553.2,237.7 L554.6,224.9 M559.2,224.9 L560.3,236.3 L561.8,224.9 M573.7,224.9 L574.2,237.6 L575.9,224.9 M583.3,224.9 L584.3,236.4 L585.4,224.9 M593.4,224.9 L594.3,231.8 L595.9,224.9 M600.0,224.9 L601.8,231.7 L603.3,224.9 M612.1,224.9 L612.7,231.7 L613.5,224.9 M624.4,224.9 L626.3,235.0 L627.0,224.9 M634.4,224.9 L636.2,234.8 L636.8,224.9 M649.0,224.9 L649.4,234.4 L650.4,224.9 M657.0,224.9 L659.0,235.8 L660.2,224.9 M669.1,224.9 L670.8,233.8 L671.3,224.9 M681.7,224.9 L683.0,232.1 L683.7,224.9 M691.5,224.9 L692.4,232.1 L693.8,224.9 M701.7,224.9 L703.1,233.8 L704.9,224.9 M711.4,224.9 L712.6,235.2 L714.7,224.9 M721.2,225.0 L721.9,236.0 L722.7,225.0 M733.2,225.0 L734.0,235.2 L734.4,225.0 M745.2,225.0 L746.8,233.7 L747.8,225.0 M756.0,225.0 L758.1,235.1 L760.0,225.0 M767.6,225.0 L768.3,234.5 L769.9,225.0 M774.2,225.0 L776.0,233.2 L776.4,225.0 M786.6,225.0 L787.9,235.1 L788.8,225.0 M794.3,225.0 L796.0,237.9 L797.7,225.0 M802.9,225.0 L803.6,236.7 L804.3,225.0 M813.9,225.0 L814.4,235.4 L816.1,225.0 M823.5,226.7 L825.5,239.3 L827.0,226.7 M833.4,227.4 L835.0,240.3 L835.8,227.4 M847.2,227.2 L848.0,238.5 L848.8,227.2 M854.4,227.1 L855.2,237.0 L856.0,227.1 M862.7,227.0 L863.9,234.0 L864.7,227.0 M871.7,226.9 L872.9,234.9 L874.8,226.9 M879.2,226.8 L881.0,239.0 L882.4,226.8 M890.6,226.6 L891.8,238.0 L893.3,226.6 M904.5,226.5 L905.3,238.1 L905.7,226.5 M917.1,226.4 L918.8,235.0 L919.6,226.4 M927.4,226.3 L929.0,235.0 L931.0,226.3 M938.6,226.2 L939.5,236.4 L940.3,226.2 M951.2,226.1 L953.2,232.9 L954.7,226.1 M960.2,226.1 L960.7,238.7 L962.0,226.1 M967.7,226.0 L968.5,239.2 L970.4,226.0 M975.5,226.0 L976.0,236.8 L976.3,226.0 M985.4,225.9 L987.0,239.1 L988.8,225.9 M999.0,225.8 L999.5,235.6 L1000.7,225.8 M1006.8,225.8 L1007.7,235.6 L1008.9,225.8 M1015.1,225.8 L1016.1,237.0 L1017.3,225.8 M1022.4,225.8 L1023.7,235.4 L1025.7,225.8 M1033.8,225.8 L1034.6,232.8 L1035.5,225.8 M1044.5,225.8 L1046.5,238.7 L1048.5,225.8 M1058.0,225.8 L1060.0,238.1 L1060.3,225.8 M1068.9,225.8 L1070.4,236.1 L1071.8,225.8 M1081.3,225.8 L1081.7,238.6 L1083.0,225.8 M1094.9,225.8 L1095.4,232.1 L1097.3,225.8 M1108.8,225.8 L1109.1,232.0 L1110.9,225.8 M1119.6,225.8 L1121.0,235.6 L1122.6,225.8 M1133.2,225.8 L1133.6,231.9 L1135.3,225.8 M1146.4,225.9 L1147.4,237.9 L1148.3,225.9 M1155.2,225.9 L1156.9,232.0 L1157.6,225.9 M1167.1,225.9 L1168.0,235.7 L1169.5,225.9 M1176.3,225.9 L1178.2,233.6 L1178.8,225.9 M1185.0,225.9 L1186.2,233.7 L1187.9,225.9 M1194.1,225.9 L1195.5,233.6 L1196.3,225.9 M1204.3,225.9 L1206.2,233.7 L1206.8,225.9 M1213.9,225.9 L1214.8,234.1 L1216.4,225.9 M1225.3,225.9 L1226.5,237.6 L1227.0,225.9 M1238.2,225.9 L1238.9,233.7 L1239.9,225.9 M1251.9,225.9 L1252.8,234.6 L1254.7,225.9 M1266.2,225.9 L1266.7,234.7 L1268.5,225.9 M1277.5,225.9 L1279.2,234.4 L1280.2,225.9 M1286.6,225.9 L1288.2,236.2 L1289.4,225.9 M1299.8,225.9 L1301.0,232.0 L1301.9,225.9 M1307.9,225.9 L1308.4,238.6 L1309.1,225.9 M1319.6,225.9 L1321.6,238.9 L1322.5,225.9 M1333.5,225.9 L1335.1,232.9 L1337.1,225.9 M1341.9,225.9 L1343.4,232.9 L1345.3,225.9 M1354.4,225.9 L1355.5,238.9 L1356.5,225.9 M1361.4,225.9 L1363.3,233.9 L1363.8,225.9 M1371.3,225.9 L1371.6,234.5 L1372.5,225.9 M1378.7,225.9 L1379.9,232.8 L1381.2,225.9 M1389.6,225.9 L1390.9,237.5 L1392.9,225.9 M1398.0,225.9 L1398.5,233.6 L1399.3,225.9 M1409.6,225.9 L1410.8,238.7 L1411.4,225.9 M1419.3,225.9 L1420.1,236.1 L1421.8,225.9 M1432.5,225.9 L1433.9,235.3 L1435.7,225.9 M1442.2,226.0 L1444.2,233.3 L1446.2,226.0 M1450.3,226.0 L1451.3,237.5 L1451.7,226.0 M1457.9,226.0 L1459.5,233.2 L1460.2,226.0 M1464.9,226.0 L1466.6,233.6 L1467.8,226.0 M1477.6,226.0 L1478.2,235.4 L1478.5,226.0 M1486.5,226.0 L1487.3,232.3 L1488.7,226.0 M1495.5,226.0 L1496.9,235.4 L1497.8,226.0 M1505.0,226.0 L1506.4,238.4 L1507.4,226.0 M1516.3,226.0 L1517.2,235.3 L1519.1,226.0 M1524.0,226.0 L1525.8,238.8 L1527.7,226.0 M1531.9,226.0 L1533.9,235.7 L1534.8,226.0 M1541.4,226.0 L1542.1,237.3 L1543.5,226.0 M1549.4,226.0 L1550.2,238.9 L1550.7,226.0 M1560.8,226.0 L1562.1,234.5 L1563.3,226.0 M1574.5,226.0 L1575.5,235.7 L1575.8,226.0" fill="none" stroke="#ff0000" stroke-width="6.5" stroke-linejoin="round" stroke-linecap="butt"/></g>
<g clip-path="url(#plotclip)" shape-rendering="crispEdges"><path d="M195,498.6 199.4,498.7 201.7,497.4 203.8,497.5 208.3,499.4 210.8,498.4 213.1,499.0 216.7,499.1 219.6,496.7 223.8,498.9 226.4,498.1 230.8,499.2 233.6,497.3 237.1,497.4 241.4,497.2 245.1,498.2 249.4,499.2 253.2,498.8 255.3,499.4 259.5,499.4 263,498.9 265.8,498.0 268.2,499.2 272.4,497.5 275.8,498.0 280.2,499.5 284.1,497.1 288.5,499.2 291.9,497.0 295.7,499.2 299.2,496.9 301.8,498.8 306.2,499.3 309,497.7 313,496.9 317.3,498.7 321,499.2 323.3,497.2 327.4,498.7 331.1,497.3 333.5,497.1 335.6,497.3 339,497.3 341.1,496.5 345.4,498.8 348.6,499.2 351.9,497.1 355,497.9 358.6,499.2 362.9,498.1 365.7,497.4 368.6,497.1 372.1,497.4 374.8,496.5 378.3,497.7 381.6,498.2 384.7,498.4 388.4,497.3 391.7,497.4 394,498.4 398.4,497.5 401.3,497.3 404.4,499.4 407.4,498.6 411.7,496.9 416.1,498.1 419.4,498.9 422.4,498.8 424.6,499.3 428.9,499.2 431.3,496.5 434.7,497.9 437.6,497.1 440.4,499.2 443.3,496.9 445.7,496.9 447.8,496.6 451.2,496.9 455.2,497.0 458.8,497.9 461.3,497.3 465,497.7 467.2,498.9 470.2,497.0 474.3,498.4 478.6,498.4 481.7,498.6 485.8,498.7 489.1,497.4 492.4,497.5 495.8,497.4 500.3,498.2 504.2,497.2 507.4,499.1 511.2,497.4 514.8,498.1 517.7,499.3 521.6,497.2 525.7,497.8 529.2,497.7 533.6,499.1 535.6,498.5 538.9,498.1 542.4,496.9 545.3,498.1 547.7,496.9 551.5,498.9 554.5,497.5 557.2,498.2 559.3,497.7 563.7,497.9 566.6,497.2 568.9,497.5 571.4,497.2 574.1,497.4 578.3,497.0 580.7,496.6 583.4,498.7 585.6,499.2 588.8,499.0 591.3,497.5 594.2,498.8 598,498.7 602.3,497.2 606.4,498.0 608.5,497.8 611.5,496.7 615.6,498.9 617.7,499.0 620.2,498.2 623.4,497.9 626.4,499.3 630.2,498.1 634,499.0 637.2,497.3 639.8,498.0 642.4,496.4 645.1,496.8 647.2,496.8 650.9,498.5 653.3,496.6 657.5,497.9 661.1,497.0 663.3,497.4 666.5,499.2 670,497.4 672.1,497.7 675.3,498.5 677.4,498.3 681.3,497.5 683.3,498.1 686.9,496.7 691.4,498.8 695.5,497.0 698.1,497.7 701.4,497.4 703.8,496.6 706.6,496.3 710.8,497.1 714.8,498.4 716.9,496.5 719.8,497.6 723.4,498.6 725.8,496.9 729.8,497.5 734.1,498.4 737.5,498.1 740.4,498.8 744.5,498.4 747.8,497.7 750.2,496.9 752.9,498.6 755.3,496.8 759.4,499.1 762.7,496.7 766.4,498.8 770.5,497.8 774.9,497.1 777.4,496.5 780.4,496.2 784.6,498.5 788.5,496.2 791.5,496.7 795.1,497.3 797.6,496.9 800,498.5 802.1,496.2 805.1,498.7 807.7,496.8 811,496.3 815.4,496.7 817.8,496.5 821.2,497.5 825.3,497.8 826,497.5 827.5,498.7 828.8,496.9 829.5,496.7 831,499.6 832.1,497.4 833,499.9 836,503.1 836.1,502.5 838,505.6 838.1,505.9 842.5,511.2 843,511.0 846.2,515.8 848,517.5 850.2,518.6 854.3,524.0 856.5,528.1 858.7,530.3 861.1,532.7 864.4,534.0 868.7,537.0 873,540.4 876,541.6 879.6,544.4 883.5,548.1 886.3,548.3 890.7,551.2 895.1,553.2 898.9,553.1 903.1,553.6 907.1,553.6 910.8,553.2 913.6,552.4 916.3,552.3 918.9,551.5 921,550.8 925.3,550.0 928.1,549.2 930.1,547.4 932.9,545.7 935.2,546.8 938.3,545.9 941.1,542.8 943.6,541.7 946.8,539.7 949.8,539.5 952.7,539.8 956.7,539.4 959.5,539.8 962.8,537.5 967,537.1 971.4,536.9 974.4,535.6 976.5,535.4 980.8,533.9 984.1,534.9 986.7,534.4 989,532.3 991.6,532.1 994.4,532.8 996.7,531.7 998.8,533.2 1003.3,533.7 1007.4,531.3 1009.6,532.5 1012.9,532.9 1016.9,532.7 1020.1,534.1 1022.3,532.7 1025.1,533.3 1028.1,532.8 1032.4,534.3 1035.8,533.5 1039,534.7 1042.6,533.6 1044.7,533.2 1048.4,533.8 1052.4,534.8 1056.1,534.1 1059,536.5 1061.7,536.3 1063.7,536.3 1065.9,537.0 1068.3,534.6 1071.5,537.0 1075.4,535.2 1077.9,535.2 1081.1,536.9 1084.7,536.2 1088.3,536.1 1090.3,536.5 1094.6,536.7 1098.1,536.7 1100.9,537.3 1103.5,538.3 1107.2,538.4 1111.5,538.2 1114.4,536.6 1117.4,539.2 1120.7,537.5 1123.2,537.0 1126.2,538.4 1130.5,538.7 1133.9,538.1 1137.9,536.4 1140.6,537.5 1144.8,537.1 1148.7,538.6 1151.3,536.2 1154.6,538.7 1158.3,538.6 1161.8,537.8 1165.3,538.9 1167.9,536.2 1171.2,537.7 1174.1,538.1 1178.1,538.3 1181.1,536.1 1185.5,536.2 1189,536.9 1191.5,537.7 1194.6,537.1 1196.9,537.9 1200.7,537.1 1202.8,538.0 1206.4,535.8 1209.1,536.2 1213.1,538.3 1215.4,536.6 1219.1,537.2 1222.9,536.8 1225.5,538.6 1227.8,538.6 1230.7,538.6 1234.3,536.7 1237,536.6 1239,536.2 1242.1,536.1 1246.1,537.4 1248.5,536.6 1252.9,536.0 1256.1,536.7 1258.5,536.0 1260.8,538.6 1263.7,538.1 1266.9,537.2 1269.4,536.6 1271.6,536.5 1274.8,537.3 1277.5,536.5 1280.6,538.1 1283.7,537.4 1287.4,538.5 1290.9,537.5 1293.5,536.3 1295.9,537.7 1300,537.2 1302.2,536.7 1304.5,535.7 1306.7,535.7 1310.7,537.6 1314.1,537.5 1318.4,538.4 1321.9,538.1 1324.8,536.4 1327.9,537.6 1331.7,537.2 1334.3,536.7 1338.3,536.8 1341.3,536.0 1343.4,538.4 1346.3,537.0 1349.7,536.1 1352,538.3 1356.3,536.1 1360.6,538.2 1363.9,536.6 1368.1,538.2 1371.9,536.1 1375.2,536.6 1377.6,537.6 1382,535.4 1386.3,535.9 1389.4,538.0 1392.4,538.3 1394.6,538.2 1398.1,537.8 1402.3,537.0 1405.2,536.0 1408,538.1 1411.5,535.8 1415.5,535.7 1417.9,536.0 1420.6,535.7 1424.2,535.8 1426.3,536.6 1430.3,536.3 1433.1,535.4 1437.2,535.5 1440.4,537.2 1442.8,536.5 1444.8,536.8 1447.1,536.9 1449.7,537.4 1453.6,536.2 1457.6,535.9 1461.2,537.0 1464,535.3 1467.6,536.9 1471.5,535.8 1474.4,538.1 1476.6,536.9 1479.8,537.8 1482.3,537.3 1484.8,535.9 1487.8,536.8 1490,536.7 1494.2,536.7 1496.9,536.3 1501.1,537.1 1505,535.4 1507,536.1 1511.3,538.0 1515.3,535.0 1518.6,535.8 1522.8,537.4 1526,536.7 1528.1,537.3 1530.4,536.3 1533.2,536.6 1537.4,536.0 1541.4,536.9 1543.7,537.0 1546.6,535.8 1548.9,537.8 1551.5,536.4 1554.3,537.4 1557.4,537.3 1559.7,535.9 1563.4,536.1 1566,536.2 1570.2,536.8 1573.4,537.8 1576.5,535.2 1580.4,535.1 1583.3,535.5 1585.9,536.7 1587,536.8 1587,552.2 1585.9,552.0 1583.3,552.7 1580.4,553.0 1576.5,552.9 1573.4,553.5 1570.2,553.4 1566,554.1 1563.4,551.9 1559.7,553.9 1557.4,551.7 1554.3,551.6 1551.5,551.8 1548.9,552.8 1546.6,551.9 1543.7,552.4 1541.4,554.2 1537.4,554.0 1533.2,551.5 1530.4,552.1 1528.1,553.8 1526,554.2 1522.8,551.8 1518.6,552.0 1515.3,554.4 1511.3,552.7 1507,552.3 1505,554.3 1501.1,553.5 1496.9,553.2 1494.2,552.8 1490,552.3 1487.8,553.4 1484.8,551.9 1482.3,551.7 1479.8,551.7 1476.6,551.9 1474.4,554.2 1471.5,553.5 1467.6,552.4 1464,551.6 1461.2,553.5 1457.6,553.2 1453.6,554.5 1449.7,552.9 1447.1,553.7 1444.8,553.1 1442.8,552.9 1440.4,554.4 1437.2,554.3 1433.1,553.8 1430.3,553.7 1426.3,551.9 1424.2,554.3 1420.6,554.1 1417.9,553.3 1415.5,554.2 1411.5,554.1 1408,552.5 1405.2,551.9 1402.3,554.6 1398.1,553.4 1394.6,552.2 1392.4,552.7 1389.4,554.4 1386.3,554.5 1382,551.8 1377.6,553.6 1375.2,552.7 1371.9,551.8 1368.1,554.6 1363.9,553.8 1360.6,553.9 1356.3,551.8 1352,552.1 1349.7,553.2 1346.3,554.8 1343.4,554.6 1341.3,554.4 1338.3,553.9 1334.3,553.8 1331.7,553.6 1327.9,552.1 1324.8,552.5 1321.9,553.0 1318.4,552.5 1314.1,553.0 1310.7,554.0 1306.7,552.7 1304.5,554.6 1302.2,553.9 1300,552.0 1295.9,554.9 1293.5,552.0 1290.9,553.1 1287.4,553.4 1283.7,554.9 1280.6,553.8 1277.5,555.0 1274.8,552.5 1271.6,554.6 1269.4,554.6 1266.9,553.5 1263.7,552.8 1260.8,553.1 1258.5,552.4 1256.1,552.1 1252.9,554.2 1248.5,553.4 1246.1,554.9 1242.1,553.4 1239,553.8 1237,553.4 1234.3,552.7 1230.7,552.4 1227.8,553.1 1225.5,553.0 1222.9,552.7 1219.1,554.0 1215.4,553.6 1213.1,553.8 1209.1,554.9 1206.4,554.4 1202.8,553.1 1200.7,553.3 1196.9,553.4 1194.6,552.8 1191.5,554.9 1189,553.7 1185.5,553.8 1181.1,553.4 1178.1,553.6 1174.1,553.3 1171.2,553.5 1167.9,553.7 1165.3,553.9 1161.8,553.3 1158.3,552.8 1154.6,553.5 1151.3,554.2 1148.7,553.3 1144.8,554.1 1140.6,554.6 1137.9,555.1 1133.9,555.0 1130.5,553.9 1126.2,554.5 1123.2,555.2 1120.7,553.9 1117.4,554.4 1114.4,555.6 1111.5,554.6 1107.2,554.4 1103.5,553.5 1100.9,553.2 1098.1,554.9 1094.6,554.9 1090.3,552.5 1088.3,553.3 1084.7,553.2 1081.1,551.9 1077.9,553.7 1075.4,553.0 1071.5,552.5 1068.3,552.6 1065.9,552.2 1063.7,553.0 1061.7,551.8 1059,551.8 1056.1,550.8 1052.4,551.6 1048.4,549.4 1044.7,552.0 1042.6,551.0 1039,549.9 1035.8,550.9 1032.4,550.8 1028.1,550.1 1025.1,548.3 1022.3,550.4 1020.1,548.0 1016.9,550.6 1012.9,547.7 1009.6,548.9 1007.4,549.3 1003.3,548.4 998.8,549.4 996.7,550.2 994.4,549.4 991.6,550.5 989,548.1 986.7,550.3 984.1,549.2 980.8,551.4 976.5,550.6 974.4,551.6 971.4,551.8 967,554.4 962.8,554.7 959.5,555.1 956.7,556.3 952.7,555.0 949.8,558.3 946.8,557.0 943.6,558.9 941.1,558.2 938.3,560.2 935.2,562.9 932.9,562.6 930.1,563.1 928.1,563.9 925.3,565.7 921,568.0 918.9,567.9 916.3,567.8 913.6,567.9 910.8,570.3 907.1,569.1 903.1,569.4 898.9,570.6 895.1,568.8 890.7,567.4 886.3,565.1 883.5,562.3 879.6,562.2 876,558.6 873,558.1 868.7,553.7 864.4,552.6 861.1,549.6 858.7,547.9 856.5,544.4 854.3,542.5 850.2,536.7 848,533.9 846.2,529.4 843,526.4 842.5,525.6 838.1,522.7 838,520.2 836.1,518.8 836,518.8 833,516.8 832.1,515.1 831,516.0 829.5,515.8 828.8,513.8 827.5,513.0 826,512.4 825.3,512.9 821.2,513.7 817.8,512.8 815.4,512.4 811,513.6 807.7,513.1 805.1,512.3 802.1,515.0 800,512.7 797.6,513.8 795.1,512.3 791.5,514.8 788.5,515.0 784.6,514.9 780.4,514.7 777.4,512.9 774.9,515.0 770.5,512.6 766.4,513.2 762.7,515.4 759.4,512.8 755.3,513.4 752.9,514.9 750.2,515.1 747.8,515.0 744.5,514.6 740.4,514.4 737.5,513.7 734.1,513.7 729.8,515.6 725.8,513.1 723.4,515.4 719.8,514.1 716.9,515.3 714.8,512.9 710.8,513.8 706.6,513.0 703.8,515.6 701.4,514.7 698.1,514.6 695.5,515.4 691.4,514.2 686.9,515.2 683.3,514.2 681.3,513.6 677.4,514.2 675.3,515.3 672.1,513.0 670,514.2 666.5,513.9 663.3,515.1 661.1,512.8 657.5,515.4 653.3,515.4 650.9,514.3 647.2,514.1 645.1,515.3 642.4,514.6 639.8,513.9 637.2,513.7 634,513.0 630.2,515.2 626.4,514.6 623.4,515.1 620.2,515.3 617.7,514.8 615.6,514.2 611.5,515.7 608.5,515.2 606.4,514.7 602.3,513.7 598,514.2 594.2,514.3 591.3,514.1 588.8,514.0 585.6,515.7 583.4,514.2 580.7,515.7 578.3,514.9 574.1,514.7 571.4,513.3 568.9,515.7 566.6,513.8 563.7,514.9 559.3,515.1 557.2,513.1 554.5,513.9 551.5,515.5 547.7,513.8 545.3,514.5 542.4,514.5 538.9,515.8 535.6,515.5 533.6,512.9 529.2,513.5 525.7,514.6 521.6,513.1 517.7,514.3 514.8,513.5 511.2,515.2 507.4,514.2 504.2,514.4 500.3,514.4 495.8,513.2 492.4,515.6 489.1,514.7 485.8,513.7 481.7,513.8 478.6,514.0 474.3,513.5 470.2,514.5 467.2,514.2 465,513.7 461.3,513.5 458.8,514.5 455.2,513.4 451.2,515.8 447.8,515.1 445.7,513.8 443.3,513.8 440.4,514.4 437.6,513.2 434.7,513.2 431.3,515.1 428.9,515.1 424.6,513.1 422.4,514.4 419.4,513.5 416.1,513.0 411.7,514.1 407.4,514.0 404.4,514.9 401.3,515.2 398.4,515.1 394,512.9 391.7,514.6 388.4,515.8 384.7,515.6 381.6,515.2 378.3,514.1 374.8,514.7 372.1,514.5 368.6,514.5 365.7,515.7 362.9,514.4 358.6,514.0 355,515.2 351.9,514.4 348.6,514.0 345.4,514.2 341.1,515.3 339,514.4 335.6,515.2 333.5,514.2 331.1,515.8 327.4,513.1 323.3,515.9 321,513.7 317.3,514.0 313,513.9 309,515.5 306.2,513.8 301.8,515.2 299.2,514.1 295.7,514.4 291.9,513.2 288.5,514.2 284.1,514.1 280.2,513.9 275.8,514.7 272.4,515.0 268.2,514.7 265.8,513.7 263,514.6 259.5,514.6 255.3,513.4 253.2,513.9 249.4,514.5 245.1,514.5 241.4,514.4 237.1,515.0 233.6,513.0 230.8,514.2 226.4,514.7 223.8,513.1 219.6,515.8 216.7,513.7 213.1,513.6 210.8,515.7 208.3,513.9 203.8,513.8 201.7,514.1 199.4,513.7 195,514.0Z" fill="#0000ff"/><path d="M201.0,506.3 L201.4,496.9 L202.9,506.3 M207.0,506.3 L208.6,497.3 L210.6,506.3 M219.3,506.3 L220.9,497.3 L222.4,506.3 M231.6,506.3 L233.4,497.2 L234.3,506.3 M247.6,506.3 L248.0,498.8 L248.4,506.3 M258.9,506.3 L259.4,496.5 L261.3,506.3 M269.8,506.3 L270.4,497.2 L272.5,506.3 M279.7,506.2 L281.1,498.7 L281.5,506.2 M292.8,506.2 L293.3,496.6 L294.1,506.2 M301.1,506.2 L302.5,498.8 L304.3,506.2 M311.2,506.2 L313.2,497.1 L314.9,506.2 M322.6,506.2 L323.2,496.3 L325.0,506.2 M330.4,506.2 L330.9,498.4 L332.2,506.2 M338.2,506.2 L338.8,497.4 L340.3,506.2 M349.2,506.2 L349.7,498.4 L351.4,506.2 M356.3,506.2 L358.3,498.3 L360.2,506.2 M369.3,506.2 L371.1,497.3 L372.9,506.2 M383.7,506.2 L384.7,496.8 L386.4,506.2 M394.5,506.2 L394.9,497.5 L395.5,506.2 M406.8,506.2 L407.3,499.0 L409.1,506.2 M419.7,506.2 L421.4,496.0 L422.3,506.2 M432.8,506.2 L433.3,497.7 L433.9,506.2 M443.9,506.2 L445.2,498.0 L447.2,506.2 M450.7,506.1 L452.8,498.8 L453.3,506.1 M461.9,506.1 L462.7,497.5 L463.7,506.1 M470.3,506.1 L471.0,496.6 L472.6,506.1 M481.3,506.1 L481.7,497.7 L483.6,506.1 M488.5,506.1 L488.8,496.3 L489.8,506.1 M498.6,506.1 L499.4,497.3 L501.5,506.1 M507.5,506.1 L509.2,498.6 L510.6,506.1 M519.1,506.1 L521.0,496.0 L521.9,506.1 M534.8,506.1 L535.2,496.2 L536.4,506.1 M548.2,506.1 L549.1,498.0 L550.3,506.1 M561.4,506.1 L562.9,499.1 L564.5,506.1 M576.7,506.1 L577.5,497.1 L579.0,506.1 M588.7,506.1 L590.4,498.8 L591.8,506.1 M600.7,506.1 L602.1,497.1 L602.7,506.1 M609.4,506.1 L610.3,499.1 L611.0,506.1 M621.5,506.0 L622.0,498.8 L623.3,506.0 M634.9,506.0 L635.3,497.7 L637.3,506.0 M645.2,506.0 L646.8,496.1 L648.7,506.0 M658.5,506.0 L660.4,496.7 L661.9,506.0 M674.6,506.0 L675.2,496.0 L676.3,506.0 M688.3,506.0 L689.7,496.9 L690.8,506.0 M697.1,506.0 L697.4,497.8 L698.0,506.0 M706.6,506.0 L708.1,497.7 L709.4,506.0 M719.4,505.9 L721.2,497.2 L721.5,505.9 M730.2,505.9 L731.9,495.8 L733.7,505.9 M745.4,505.8 L746.6,498.4 L748.5,505.8 M755.6,505.8 L756.2,497.3 L756.6,505.8 M768.8,505.7 L770.5,496.4 L772.4,505.7 M780.2,505.7 L781.9,496.0 L783.0,505.7 M791.6,505.6 L792.7,498.1 L794.5,505.6 M799.3,505.6 L799.9,495.5 L801.1,505.6 M807.9,505.6 L809.3,498.5 L809.9,505.6 M818.5,505.5 L819.6,495.9 L820.5,505.5 M825.9,505.9 L827.7,498.9 L828.8,505.9 M835.8,512.5 L837.1,503.1 L837.8,512.5 M850.9,529.6 L851.8,521.5 L853.8,529.6 M860.3,541.5 L862.1,533.2 L863.6,541.5 M870.7,547.7 L871.1,540.6 L871.7,547.7 M882.8,555.5 L884.1,547.5 L884.9,555.5 M889.9,559.2 L891.4,549.0 L892.9,559.2 M901.7,562.4 L903.4,555.4 L905.3,562.4 M910.3,561.3 L912.3,551.6 L912.9,561.3 M924.9,557.1 L926.6,550.1 L928.6,557.1 M934.4,554.1 L934.7,545.8 L936.0,554.1 M941.5,551.1 L942.2,542.7 L942.8,551.1 M953.9,547.6 L954.5,540.0 L955.3,547.6 M963.2,545.4 L964.5,536.4 L965.9,545.4 M975.5,542.6 L977.1,535.0 L977.5,542.6 M983.4,541.6 L984.8,533.0 L985.6,541.6 M997.9,540.5 L999.7,533.3 L1001.0,540.5 M1011.0,540.9 L1011.5,532.7 L1012.5,540.9 M1022.1,541.3 L1023.9,532.0 L1024.7,541.3 M1033.9,541.8 L1035.0,534.6 L1036.1,541.8 M1048.0,542.7 L1048.3,535.5 L1049.8,542.7 M1060.2,543.5 L1061.7,536.4 L1062.3,543.5 M1074.9,544.4 L1075.5,535.5 L1076.5,544.4 M1088.8,545.3 L1089.2,535.2 L1090.3,545.3 M1095.1,545.8 L1097.1,535.7 L1098.2,545.8 M1109.1,545.9 L1110.9,538.3 L1111.6,545.9 M1118.8,545.9 L1120.4,537.4 L1121.5,545.9 M1127.7,545.9 L1128.3,538.8 L1129.1,545.9 M1138.5,545.8 L1140.5,538.4 L1141.9,545.8 M1148.1,545.8 L1149.9,537.1 L1150.7,545.8 M1160.5,545.7 L1162.3,536.8 L1163.8,545.7 M1169.1,545.7 L1169.8,535.9 L1171.2,545.7 M1175.9,545.6 L1177.7,536.1 L1179.5,545.6 M1189.0,545.5 L1190.3,535.6 L1192.1,545.5 M1198.8,545.5 L1199.6,538.2 L1200.6,545.5 M1211.9,545.5 L1212.8,536.0 L1214.5,545.5 M1225.4,545.4 L1227.0,537.4 L1227.8,545.4 M1236.2,545.4 L1237.1,537.9 L1237.5,545.4 M1246.6,545.4 L1247.2,535.9 L1247.9,545.4 M1260.7,545.3 L1261.4,537.4 L1262.1,545.3 M1267.1,545.3 L1268.7,535.5 L1270.8,545.3 M1280.8,545.3 L1282.8,536.4 L1283.5,545.3 M1295.0,545.3 L1295.6,535.7 L1297.6,545.3 M1309.8,545.2 L1310.4,537.7 L1310.9,545.2 M1317.2,545.2 L1318.9,537.3 L1319.6,545.2 M1326.0,545.2 L1327.7,536.1 L1328.0,545.2 M1340.2,545.1 L1341.0,536.1 L1342.2,545.1 M1348.2,545.1 L1348.5,536.9 L1350.2,545.1 M1359.0,545.1 L1359.6,537.7 L1361.0,545.1 M1367.6,545.1 L1369.0,535.7 L1370.6,545.1 M1374.9,545.0 L1376.9,537.6 L1378.5,545.0 M1386.9,545.0 L1387.3,534.7 L1388.7,545.0 M1394.7,545.0 L1395.3,537.2 L1396.3,545.0 M1401.2,545.0 L1402.8,537.6 L1403.4,545.0 M1412.0,544.9 L1413.7,534.8 L1414.2,544.9 M1425.3,544.9 L1426.6,536.2 L1428.3,544.9 M1439.4,544.9 L1441.2,536.9 L1441.9,544.9 M1450.9,544.8 L1452.7,535.0 L1453.6,544.8 M1464.9,544.8 L1466.8,536.1 L1468.5,544.8 M1476.8,544.8 L1477.3,536.8 L1479.2,544.8 M1484.5,544.8 L1485.4,537.6 L1485.9,544.8 M1493.3,544.7 L1494.2,535.6 L1496.1,544.7 M1502.5,544.7 L1504.3,534.9 L1505.1,544.7 M1515.2,544.7 L1515.8,535.6 L1516.2,544.7 M1529.2,544.6 L1529.8,537.6 L1530.3,544.6 M1542.3,544.6 L1543.5,535.6 L1544.7,544.6 M1556.4,544.6 L1558.2,537.1 L1559.0,544.6 M1566.3,544.6 L1567.3,535.4 L1568.7,544.6 M1578.9,544.5 L1579.9,537.4 L1580.9,544.5 M201.7,506.3 L202.7,515.1 L204.4,506.3 M213.8,506.3 L215.6,513.4 L217.4,506.3 M223.7,506.3 L224.8,516.3 L225.6,506.3 M230.7,506.3 L232.4,515.6 L233.4,506.3 M242.7,506.3 L244.5,513.9 L246.1,506.3 M255.2,506.3 L255.5,513.6 L256.5,506.3 M263.6,506.3 L264.4,513.4 L266.4,506.3 M274.5,506.3 L275.6,516.3 L276.4,506.3 M282.4,506.2 L283.9,515.7 L285.1,506.2 M293.9,506.2 L294.6,515.8 L296.6,506.2 M306.7,506.2 L308.5,513.8 L310.1,506.2 M314.0,506.2 L315.8,516.8 L316.6,506.2 M324.0,506.2 L324.4,515.2 L324.9,506.2 M336.0,506.2 L337.0,514.7 L338.9,506.2 M350.0,506.2 L350.4,514.3 L350.8,506.2 M360.6,506.2 L362.7,515.6 L364.0,506.2 M373.4,506.2 L374.6,516.8 L375.8,506.2 M382.9,506.2 L384.5,515.2 L385.6,506.2 M396.0,506.2 L397.4,514.7 L398.5,506.2 M408.4,506.2 L408.9,516.7 L409.3,506.2 M417.1,506.2 L417.7,514.0 L419.0,506.2 M426.6,506.2 L428.3,515.0 L428.8,506.2 M441.9,506.2 L442.7,516.7 L444.4,506.2 M455.6,506.1 L456.6,513.1 L458.1,506.1 M465.4,506.1 L466.2,513.7 L467.1,506.1 M478.1,506.1 L479.0,515.2 L481.1,506.1 M486.8,506.1 L488.7,515.5 L490.8,506.1 M497.7,506.1 L499.1,514.6 L500.4,506.1 M509.8,506.1 L510.5,515.5 L511.1,506.1 M520.8,506.1 L521.9,513.9 L522.3,506.1 M530.6,506.1 L531.8,513.6 L533.7,506.1 M539.3,506.1 L540.2,513.8 L541.0,506.1 M546.4,506.1 L547.9,513.3 L549.7,506.1 M553.2,506.1 L555.0,516.6 L556.6,506.1 M567.2,506.1 L568.0,513.4 L569.8,506.1 M578.4,506.1 L579.1,516.6 L581.0,506.1 M591.7,506.1 L593.3,513.6 L595.4,506.1 M598.8,506.1 L600.7,513.9 L602.3,506.1 M608.6,506.1 L610.6,513.6 L610.9,506.1 M624.6,506.0 L625.5,513.1 L626.7,506.0 M636.2,506.0 L637.2,516.8 L639.2,506.0 M644.7,506.0 L646.8,514.4 L647.7,506.0 M656.0,506.0 L657.8,513.2 L659.0,506.0 M670.6,506.0 L671.7,516.0 L672.1,506.0 M680.5,506.0 L681.5,515.0 L682.6,506.0 M688.4,506.0 L690.4,513.8 L692.1,506.0 M699.9,506.0 L700.3,516.8 L701.8,506.0 M708.3,506.0 L709.6,514.0 L710.9,506.0 M717.9,505.9 L718.9,513.8 L720.7,505.9 M731.7,505.9 L733.3,517.0 L735.3,505.9 M739.7,505.8 L740.6,517.0 L741.0,505.8 M747.8,505.8 L749.3,516.8 L749.7,505.8 M756.7,505.8 L758.8,517.1 L760.8,505.8 M771.1,505.7 L773.0,517.1 L774.1,505.7 M781.6,505.7 L782.0,515.0 L783.3,505.7 M790.1,505.6 L791.2,513.4 L792.7,505.6 M800.0,505.6 L802.1,512.9 L802.8,505.6 M812.2,505.5 L813.7,516.4 L814.8,505.5 M826.6,506.0 L827.8,513.2 L828.3,506.0 M837.1,514.4 L838.8,522.5 L840.0,514.4 M846.8,523.9 L847.3,531.5 L848.5,523.9 M859.6,540.8 L861.2,552.2 L861.7,540.8 M872.8,549.2 L873.3,557.2 L873.8,549.2 M884.6,556.7 L886.5,563.9 L887.4,556.7 M895.8,560.7 L896.5,572.0 L897.5,560.7 M909.6,561.6 L910.3,571.4 L910.8,561.6 M921.8,558.1 L923.8,567.8 L924.5,558.1 M932.2,554.7 L933.1,564.9 L935.2,554.7 M941.4,550.9 L942.5,558.3 L943.0,550.9 M951.1,548.0 L952.6,559.5 L953.7,548.0 M964.5,545.3 L964.9,556.1 L967.0,545.3 M978.5,542.2 L979.1,550.8 L980.7,542.2 M989.2,541.2 L990.5,548.6 L991.8,541.2 M1001.0,540.6 L1002.3,547.6 L1003.4,540.6 M1014.6,541.0 L1016.2,551.3 L1017.5,541.0 M1024.3,541.3 L1025.1,552.2 L1027.1,541.3 M1035.3,541.9 L1036.3,550.6 L1037.5,541.9 M1046.3,542.6 L1047.3,550.1 L1047.7,542.6 M1058.1,543.4 L1058.8,550.7 L1059.2,543.4 M1068.7,544.1 L1069.9,551.1 L1071.4,544.1 M1077.1,544.6 L1077.9,552.9 L1079.0,544.6 M1085.5,545.2 L1087.4,553.6 L1087.7,545.2 M1100.3,546.0 L1101.8,557.3 L1103.4,546.0 M1114.0,545.9 L1114.6,554.6 L1115.1,545.9 M1124.9,545.9 L1126.5,555.9 L1128.5,545.9 M1135.0,545.8 L1135.8,555.4 L1137.7,545.8 M1141.4,545.8 L1143.3,555.4 L1144.0,545.8 M1156.0,545.7 L1158.1,554.4 L1159.0,545.7 M1170.6,545.6 L1172.4,554.0 L1174.3,545.6 M1182.3,545.6 L1184.0,556.0 L1185.9,545.6 M1195.9,545.5 L1197.5,555.3 L1198.8,545.5 M1204.5,545.5 L1206.5,552.5 L1207.0,545.5 M1216.2,545.5 L1216.9,553.1 L1217.5,545.5 M1226.4,545.4 L1228.2,552.8 L1229.6,545.4 M1234.6,545.4 L1236.3,553.1 L1238.3,545.4 M1245.8,545.4 L1246.5,552.4 L1247.9,545.4 M1256.1,545.4 L1256.5,555.6 L1258.5,545.4 M1262.9,545.3 L1264.1,555.2 L1266.0,545.3 M1273.6,545.3 L1274.6,553.7 L1276.5,545.3 M1286.0,545.3 L1287.1,553.6 L1288.0,545.3 M1293.0,545.3 L1294.9,556.8 L1296.9,545.3 M1305.5,545.2 L1306.0,552.4 L1306.7,545.2 M1314.8,545.2 L1316.8,553.4 L1318.7,545.2 M1326.4,545.2 L1327.4,553.4 L1328.4,545.2 M1336.0,545.1 L1337.8,552.4 L1339.4,545.1 M1351.7,545.1 L1352.8,553.2 L1354.5,545.1 M1361.5,545.1 L1363.1,556.3 L1364.0,545.1 M1373.9,545.0 L1375.9,553.9 L1376.6,545.0 M1384.4,545.0 L1384.8,553.2 L1385.4,545.0 M1396.9,545.0 L1398.6,554.3 L1400.3,545.0 M1408.9,545.0 L1410.7,553.5 L1411.6,545.0 M1423.5,544.9 L1424.9,552.1 L1426.9,544.9 M1435.0,544.9 L1436.1,553.3 L1437.2,544.9 M1443.8,544.9 L1444.4,553.6 L1445.6,544.9 M1454.2,544.8 L1455.8,554.3 L1456.1,544.8 M1463.0,544.8 L1463.4,553.3 L1465.1,544.8 M1474.8,544.8 L1476.1,552.5 L1476.9,544.8 M1484.7,544.8 L1485.9,554.6 L1486.3,544.8 M1491.5,544.7 L1493.3,554.3 L1494.8,544.7 M1503.4,544.7 L1504.6,554.0 L1506.3,544.7 M1515.2,544.7 L1516.0,553.4 L1517.0,544.7 M1526.4,544.7 L1526.8,553.9 L1527.8,544.7 M1539.6,544.6 L1541.2,553.3 L1542.7,544.6 M1555.5,544.6 L1556.0,554.0 L1557.3,544.6 M1569.1,544.5 L1570.6,556.2 L1571.6,544.5 M1581.1,544.5 L1582.8,551.8 L1584.5,544.5" fill="none" stroke="#0000ff" stroke-width="6.5" stroke-linejoin="round" stroke-linecap="butt"/></g>
<g clip-path="url(#plotclip)" shape-rendering="crispEdges"><path d="M195,902.5 198.4,900.6 202,901.4 206,900.8 208.7,900.9 212.4,902.4 216.6,903.2 220.9,902.4 223.3,903.0 227,902.6 230.5,901.1 233.8,902.9 238.2,903.3 241.5,903.0 244.6,901.9 249,901.5 252.6,900.9 255.3,902.8 258.1,901.0 261.3,901.6 263.5,901.1 267,903.0 270.8,900.8 273.9,903.5 278,902.2 282.3,900.9 285.7,903.3 289.4,901.2 291.7,902.6 293.8,903.5 298.3,900.9 301,900.8 303.5,901.8 307.8,903.1 311.7,900.5 314,901.2 316.8,902.7 319.4,901.2 322.1,900.5 324.1,902.1 327.4,901.1 330.1,901.3 333.1,902.1 335.6,901.3 337.9,902.5 340,902.1 344.1,900.7 348,901.6 351.4,900.9 353.7,900.8 356.1,900.7 358.4,903.3 361.2,902.1 363.3,902.2 366,901.3 368.5,902.0 371,901.5 374.6,902.1 377.8,901.4 381,902.4 383.9,901.4 387.2,901.8 391.2,901.5 393.9,900.8 396.1,903.4 399.3,902.5 402.3,901.0 406.2,900.7 408.5,902.4 412.7,900.9 414.7,903.1 418.1,901.4 421.2,903.1 424,902.5 428.2,901.5 431.9,902.9 434.3,901.7 437.6,900.5 441.1,903.1 443.2,901.1 445.4,903.4 448.9,901.6 452.7,901.2 455.9,903.3 459,900.6 462.2,901.1 464.9,902.1 469.1,901.6 473.5,902.2 476.7,900.6 478.7,900.7 481.7,901.7 485.7,902.2 488.5,902.6 490.8,902.3 493.3,902.7 497,902.8 500.6,902.0 503.3,902.6 506.9,901.1 510.8,903.1 515.2,902.8 519.3,902.7 522.4,902.3 526.4,901.0 530.7,902.5 534.9,901.7 538.7,901.3 542.2,903.2 545.5,901.0 549.6,901.2 553.2,900.5 557,900.9 559.6,900.7 561.8,903.3 564.5,902.7 567.9,903.4 571.3,902.0 573.8,900.9 576.3,900.7 580.7,900.5 582.9,901.4 587.2,901.4 591.1,903.1 594.6,903.3 599,900.9 602.7,901.2 604.8,900.4 609.1,900.7 612.1,902.8 616.4,902.1 620.5,900.8 622.8,901.1 624.9,901.2 627,901.2 630.9,900.5 634.9,901.1 637.5,901.1 639.7,902.6 642.7,902.4 646.7,902.9 650.5,902.7 654.7,901.2 659.1,902.4 663,900.8 667.1,901.6 669.1,902.8 671.1,900.9 675.3,901.8 678.8,903.2 681.7,901.8 684,902.6 686.8,903.1 689.6,902.1 692.9,900.5 696,903.0 698.5,901.5 700.7,901.5 703.2,900.9 705.6,901.6 707.8,900.5 710.8,903.0 713.2,902.1 717.2,901.8 720.5,900.5 723.7,901.7 727.3,902.4 729.9,901.8 731.9,901.6 734.1,902.5 737,901.3 739.9,900.8 742.5,902.0 745.3,900.6 749.3,902.3 751.4,901.2 754.5,901.1 757.4,903.0 760.2,900.8 764,900.3 766.5,902.4 768.6,900.7 771,901.6 775.5,901.1 778.3,903.1 780.6,902.1 785.1,901.5 788.7,901.6 793.1,902.6 795.9,901.1 799.9,901.4 802,900.6 804.6,902.3 808.6,902.5 811.9,900.6 815.9,902.6 818.8,901.3 823,902.0 825.2,902.2 826,902.4 827.5,900.5 828.8,888.6 829.5,881.0 831,864.0 831.2,863.5 833,857.8 833.7,857.6 836,856.4 838,856.6 841,858.2 843,856.2 845.1,858.0 847.8,859.8 848,859.5 851.6,863.2 855.9,867.1 859.4,871.7 862,871.9 865.7,874.3 870.1,876.7 874.1,879.8 877.2,879.7 880.2,882.5 882.4,881.4 886.3,884.5 888.7,884.6 891.3,885.8 893.4,884.0 895.8,886.6 898.7,887.2 901.9,887.0 904.4,887.0 907.4,886.5 911.3,886.3 913.6,885.8 915.9,884.7 919.2,885.2 923.5,884.9 927.8,882.5 931.2,880.6 933.4,882.4 937.6,881.5 942.1,881.2 946.3,877.7 949.7,880.0 952.6,878.6 956.1,878.8 960.1,875.9 964.5,877.3 967.8,875.3 971,874.3 973.8,875.4 977.2,875.7 980.5,875.0 983.2,873.3 986.4,872.9 990.7,873.2 993.3,873.0 995.9,873.6 998.7,872.9 1002.8,874.2 1005.6,872.6 1009.6,873.9 1014,874.0 1018.1,872.2 1022.2,872.2 1024.6,874.0 1027.8,873.0 1031.8,873.6 1034.4,875.0 1037.9,875.1 1042.1,873.2 1046.5,874.2 1049.3,873.9 1051.6,875.2 1053.7,873.7 1056.5,873.5 1059.9,873.6 1062.6,872.9 1066.6,873.6 1070.2,875.6 1073.8,874.6 1077.9,873.7 1080.7,875.0 1084.3,874.8 1087.2,874.7 1089.9,876.0 1092.2,876.0 1096.2,876.4 1100.4,873.7 1102.5,875.4 1106.3,876.3 1108.4,874.0 1111.5,876.5 1114.3,874.0 1118.5,874.5 1121.6,874.3 1124.9,875.0 1127.8,874.5 1130.4,876.4 1133,874.9 1135.2,875.8 1137.2,874.9 1140.6,876.1 1144.4,875.8 1148.1,875.4 1150.8,875.7 1155.2,873.8 1157.4,874.3 1160.5,875.3 1163.4,875.5 1165.8,875.7 1170.2,874.5 1174,875.4 1176.3,875.4 1178.8,874.8 1182.8,875.0 1185.7,876.4 1188.5,874.3 1191.2,876.7 1194,874.5 1197.5,873.9 1200.3,876.3 1203.8,876.7 1205.9,875.5 1209.3,875.3 1212.7,875.7 1215.5,874.2 1219.7,875.2 1224,875.2 1227.6,875.9 1230.7,875.4 1233.1,876.5 1236.7,875.0 1239.4,875.9 1241.8,874.4 1245.1,874.3 1247.6,875.7 1251.2,876.1 1255.1,874.1 1257.1,876.4 1260.7,875.0 1263.2,875.9 1266.1,875.6 1269.9,875.9 1274.3,876.3 1277.1,876.2 1280.9,876.3 1283.8,874.7 1288.2,875.3 1290.6,876.2 1294.3,875.9 1296.5,875.9 1299.9,875.2 1303.7,874.9 1308,877.0 1311.9,875.1 1315.3,875.2 1318.3,874.8 1321.9,877.0 1325.5,875.7 1329,876.6 1332.8,875.1 1336.7,875.5 1341,874.4 1344.6,876.6 1348.8,876.8 1352.6,874.4 1355.6,876.0 1359.6,876.6 1362.5,875.8 1366.5,875.6 1370.7,875.6 1375,875.5 1379.3,876.4 1383,874.7 1386.2,875.2 1389,875.3 1392.6,874.4 1396.8,876.0 1399.7,874.3 1402.2,876.1 1406.1,876.4 1410.4,875.2 1412.9,874.8 1415.2,876.8 1417.5,876.0 1420.9,876.2 1425,876.8 1427.6,876.6 1431.6,877.0 1433.7,876.2 1436.2,876.0 1439.6,875.9 1443.5,875.9 1446.7,875.6 1450.4,876.4 1453.3,876.1 1456.3,875.4 1459.6,874.6 1461.6,875.1 1464.1,875.5 1467,876.0 1470.6,874.3 1473.1,876.1 1475.7,875.9 1480.2,876.3 1483.8,875.4 1486.8,875.5 1490.8,875.1 1494.6,875.6 1498.6,875.2 1502,876.5 1505.6,875.0 1507.8,875.8 1510.9,876.9 1513.8,875.5 1516.5,874.9 1519.4,874.3 1523.6,876.5 1526.2,874.7 1528.5,875.0 1531.3,874.5 1533.7,876.3 1535.8,874.8 1540.1,875.4 1543.4,876.7 1545.5,874.6 1548.8,875.2 1551.3,876.2 1554.5,876.3 1558.8,876.1 1563.3,876.8 1566.3,874.4 1570.2,874.7 1573.5,874.1 1575.7,876.3 1578.7,875.5 1582.7,875.7 1586.6,876.9 1587,876.0 1587,892.0 1586.6,892.0 1582.7,893.8 1578.7,892.2 1575.7,891.9 1573.5,892.8 1570.2,892.0 1566.3,891.6 1563.3,892.1 1558.8,891.1 1554.5,893.8 1551.3,891.4 1548.8,893.7 1545.5,892.3 1543.4,891.2 1540.1,891.0 1535.8,891.8 1533.7,893.7 1531.3,893.0 1528.5,891.7 1526.2,893.6 1523.6,891.3 1519.4,891.4 1516.5,891.5 1513.8,891.7 1510.9,891.9 1507.8,891.6 1505.6,893.9 1502,893.6 1498.6,892.6 1494.6,893.5 1490.8,892.5 1486.8,893.8 1483.8,893.4 1480.2,893.5 1475.7,892.4 1473.1,891.3 1470.6,893.3 1467,891.3 1464.1,893.5 1461.6,891.0 1459.6,892.2 1456.3,892.8 1453.3,893.9 1450.4,891.4 1446.7,891.4 1443.5,891.1 1439.6,891.3 1436.2,893.9 1433.7,893.9 1431.6,892.2 1427.6,893.9 1425,893.8 1420.9,892.6 1417.5,892.1 1415.2,892.8 1412.9,893.3 1410.4,891.4 1406.1,893.2 1402.2,891.0 1399.7,892.3 1396.8,891.0 1392.6,893.1 1389,892.3 1386.2,893.7 1383,891.2 1379.3,892.1 1375,892.1 1370.7,891.8 1366.5,892.1 1362.5,893.8 1359.6,892.2 1355.6,891.6 1352.6,892.6 1348.8,891.2 1344.6,892.7 1341,892.2 1336.7,892.3 1332.8,891.1 1329,892.1 1325.5,891.5 1321.9,893.2 1318.3,891.4 1315.3,891.0 1311.9,892.9 1308,892.1 1303.7,893.2 1299.9,891.4 1296.5,891.6 1294.3,891.7 1290.6,893.0 1288.2,893.7 1283.8,893.5 1280.9,892.4 1277.1,892.2 1274.3,893.8 1269.9,891.8 1266.1,893.1 1263.2,891.3 1260.7,891.6 1257.1,892.9 1255.1,893.1 1251.2,892.1 1247.6,892.1 1245.1,891.2 1241.8,892.9 1239.4,893.1 1236.7,892.7 1233.1,891.8 1230.7,893.4 1227.6,890.8 1224,893.6 1219.7,892.1 1215.5,893.7 1212.7,893.1 1209.3,892.3 1205.9,892.7 1203.8,893.3 1200.3,891.9 1197.5,891.6 1194,892.6 1191.2,892.6 1188.5,893.1 1185.7,891.8 1182.8,891.7 1178.8,892.1 1176.3,893.5 1174,891.9 1170.2,891.4 1165.8,893.5 1163.4,893.5 1160.5,891.8 1157.4,891.5 1155.2,892.6 1150.8,893.1 1148.1,893.0 1144.4,892.6 1140.6,891.1 1137.2,891.8 1135.2,893.5 1133,892.5 1130.4,892.3 1127.8,891.2 1124.9,892.9 1121.6,892.4 1118.5,892.4 1114.3,891.1 1111.5,890.9 1108.4,891.9 1106.3,892.3 1102.5,892.8 1100.4,891.4 1096.2,890.4 1092.2,892.9 1089.9,893.0 1087.2,892.1 1084.3,891.1 1080.7,890.9 1077.9,891.8 1073.8,892.3 1070.2,889.9 1066.6,889.8 1062.6,889.7 1059.9,890.9 1056.5,892.3 1053.7,892.3 1051.6,890.8 1049.3,892.2 1046.5,890.0 1042.1,891.1 1037.9,891.9 1034.4,891.8 1031.8,890.5 1027.8,889.2 1024.6,891.3 1022.2,888.9 1018.1,889.5 1014,889.8 1009.6,891.2 1005.6,891.1 1002.8,889.3 998.7,888.9 995.9,891.1 993.3,891.3 990.7,889.7 986.4,890.1 983.2,891.2 980.5,891.2 977.2,892.6 973.8,891.4 971,892.8 967.8,891.7 964.5,893.3 960.1,894.8 956.1,894.4 952.6,896.1 949.7,894.7 946.3,897.4 942.1,896.8 937.6,896.2 933.4,897.6 931.2,899.7 927.8,899.9 923.5,899.4 919.2,900.2 915.9,902.5 913.6,901.3 911.3,902.5 907.4,902.4 904.4,902.2 901.9,904.4 898.7,904.5 895.8,902.7 893.4,903.2 891.3,901.8 888.7,901.9 886.3,900.4 882.4,898.6 880.2,897.9 877.2,896.2 874.1,896.8 870.1,893.4 865.7,891.5 862,889.4 859.4,886.8 855.9,883.6 851.6,878.7 848,876.0 847.8,876.6 845.1,875.4 843,874.1 841,875.2 838,873.8 836,872.6 833.7,876.1 833,874.0 831.2,879.8 831,879.9 829.5,899.5 828.8,906.6 827.5,918.7 826,917.2 825.2,919.1 823,918.0 818.8,917.0 815.9,919.7 811.9,918.3 808.6,917.8 804.6,919.6 802,919.0 799.9,918.6 795.9,919.5 793.1,919.4 788.7,918.9 785.1,918.4 780.6,918.2 778.3,917.1 775.5,917.8 771,917.5 768.6,919.5 766.5,919.1 764,918.1 760.2,919.5 757.4,918.3 754.5,920.1 751.4,918.5 749.3,918.7 745.3,917.7 742.5,919.1 739.9,917.7 737,917.2 734.1,919.9 731.9,919.0 729.9,919.2 727.3,919.1 723.7,917.2 720.5,917.9 717.2,918.0 713.2,917.7 710.8,919.2 707.8,919.1 705.6,918.6 703.2,918.6 700.7,918.3 698.5,920.1 696,918.0 692.9,919.6 689.6,919.9 686.8,919.7 684,918.9 681.7,918.2 678.8,919.9 675.3,919.8 671.1,918.9 669.1,920.0 667.1,919.0 663,917.4 659.1,919.4 654.7,919.7 650.5,917.3 646.7,918.1 642.7,917.4 639.7,918.3 637.5,918.2 634.9,918.2 630.9,919.4 627,920.1 624.9,920.1 622.8,917.4 620.5,919.8 616.4,917.7 612.1,918.7 609.1,919.7 604.8,918.0 602.7,919.1 599,919.6 594.6,919.3 591.1,920.2 587.2,919.9 582.9,920.1 580.7,918.2 576.3,917.8 573.8,918.2 571.3,918.6 567.9,918.6 564.5,919.3 561.8,919.9 559.6,918.5 557,917.6 553.2,919.2 549.6,918.7 545.5,917.8 542.2,917.3 538.7,917.5 534.9,918.9 530.7,918.2 526.4,919.4 522.4,919.2 519.3,919.8 515.2,919.2 510.8,920.2 506.9,919.1 503.3,917.9 500.6,920.1 497,918.1 493.3,919.1 490.8,918.6 488.5,918.4 485.7,918.2 481.7,919.8 478.7,917.8 476.7,918.5 473.5,919.4 469.1,919.7 464.9,918.4 462.2,920.2 459,918.4 455.9,920.2 452.7,919.6 448.9,919.6 445.4,919.6 443.2,918.5 441.1,919.6 437.6,920.1 434.3,920.0 431.9,919.7 428.2,920.3 424,918.3 421.2,917.6 418.1,918.4 414.7,917.6 412.7,920.2 408.5,920.2 406.2,918.2 402.3,918.5 399.3,918.2 396.1,917.6 393.9,918.4 391.2,917.4 387.2,918.5 383.9,918.5 381,920.3 377.8,920.1 374.6,919.1 371,917.6 368.5,918.6 366,918.5 363.3,918.6 361.2,919.7 358.4,919.7 356.1,917.9 353.7,920.1 351.4,919.0 348,917.8 344.1,917.4 340,920.4 337.9,918.8 335.6,917.9 333.1,919.8 330.1,917.6 327.4,919.2 324.1,917.5 322.1,920.0 319.4,917.8 316.8,920.4 314,919.6 311.7,917.9 307.8,918.7 303.5,920.3 301,918.2 298.3,919.5 293.8,918.9 291.7,920.3 289.4,918.7 285.7,918.0 282.3,919.9 278,920.1 273.9,917.4 270.8,920.1 267,918.7 263.5,918.6 261.3,920.3 258.1,919.9 255.3,917.9 252.6,919.2 249,919.7 244.6,919.9 241.5,919.4 238.2,918.1 233.8,919.5 230.5,920.3 227,917.6 223.3,919.4 220.9,918.1 216.6,918.4 212.4,919.3 208.7,918.5 206,920.1 202,919.9 198.4,918.6 195,918.5Z" fill="#ff00ff"/><path d="M200.6,910.5 L202.5,900.6 L203.5,910.5 M211.0,910.5 L212.4,900.6 L214.4,910.5 M218.7,910.5 L220.3,901.1 L222.4,910.5 M227.5,910.5 L229.3,901.7 L230.4,910.5 M236.7,910.5 L237.3,901.4 L237.9,910.5 M250.2,910.5 L252.3,902.2 L254.3,910.5 M258.8,910.5 L260.4,902.9 L261.1,910.5 M266.4,910.5 L268.3,903.3 L270.2,910.5 M281.5,910.5 L282.2,902.4 L283.5,910.5 M287.5,910.5 L289.5,903.0 L291.6,910.5 M298.1,910.5 L299.5,902.9 L301.4,910.5 M309.5,910.5 L311.0,901.9 L312.6,910.5 M319.2,910.5 L320.4,902.6 L321.5,910.5 M334.9,910.4 L335.3,903.0 L336.6,910.4 M349.5,910.4 L350.1,900.4 L352.2,910.4 M363.6,910.4 L364.3,902.8 L365.0,910.4 M374.5,910.4 L375.2,901.8 L376.4,910.4 M385.0,910.4 L386.4,903.1 L387.0,910.4 M396.5,910.4 L397.1,903.0 L398.4,910.4 M410.0,910.4 L410.6,901.9 L411.2,910.4 M423.7,910.4 L424.5,901.8 L425.5,910.4 M432.4,910.4 L432.7,901.7 L434.4,910.4 M439.2,910.4 L441.2,902.5 L441.7,910.4 M449.5,910.4 L451.0,901.5 L452.8,910.4 M462.8,910.4 L464.5,902.1 L465.2,910.4 M477.5,910.4 L477.8,900.7 L479.5,910.4 M487.1,910.4 L487.6,903.1 L488.4,910.4 M499.7,910.4 L501.1,900.6 L502.1,910.4 M509.9,910.4 L510.3,902.9 L511.4,910.4 M520.8,910.4 L522.5,900.8 L524.4,910.4 M532.6,910.4 L534.1,901.1 L535.5,910.4 M546.9,910.4 L547.3,903.2 L547.9,910.4 M557.0,910.4 L557.5,902.1 L558.9,910.4 M567.6,910.4 L569.5,902.4 L570.3,910.4 M578.4,910.3 L579.2,900.1 L579.8,910.3 M585.2,910.3 L586.6,902.3 L587.6,910.3 M596.8,910.3 L598.1,901.4 L600.2,910.3 M609.1,910.3 L611.1,903.2 L612.7,910.3 M622.4,910.3 L624.2,900.6 L625.0,910.3 M633.2,910.3 L634.5,901.3 L636.1,910.3 M644.0,910.3 L644.9,901.2 L645.8,910.3 M656.1,910.3 L657.0,902.1 L658.1,910.3 M666.1,910.3 L667.1,902.4 L668.4,910.3 M673.7,910.3 L675.2,902.3 L676.2,910.3 M687.4,910.3 L688.5,902.6 L689.6,910.3 M696.3,910.3 L698.2,901.9 L700.1,910.3 M704.7,910.3 L706.1,900.8 L707.3,910.3 M713.7,910.3 L714.7,902.6 L715.3,910.3 M726.7,910.2 L728.7,900.4 L729.2,910.2 M735.7,910.2 L737.0,900.0 L737.8,910.2 M748.2,910.2 L749.8,901.4 L751.7,910.2 M757.2,910.2 L758.7,902.4 L760.8,910.2 M768.8,910.1 L770.0,901.3 L770.3,910.1 M783.5,910.1 L784.2,901.6 L784.6,910.1 M792.9,910.1 L794.7,900.5 L796.4,910.1 M808.6,910.0 L809.3,901.0 L810.0,910.0 M820.2,910.0 L820.9,901.7 L822.9,910.0 M827.8,900.7 L828.4,893.2 L829.7,900.7 M840.5,865.3 L841.2,857.8 L842.8,865.3 M853.5,875.4 L855.4,867.1 L856.8,875.4 M865.6,883.4 L866.3,875.7 L867.3,883.4 M879.0,890.1 L880.6,881.0 L882.5,890.1 M893.8,894.1 L894.4,886.2 L894.7,894.1 M905.0,894.5 L906.7,887.2 L908.5,894.5 M914.1,893.7 L915.0,884.0 L916.2,893.7 M928.1,890.8 L928.8,883.8 L929.5,890.8 M941.4,888.1 L942.5,878.2 L943.0,888.1 M954.7,886.1 L956.1,878.3 L958.1,886.1 M967.8,884.1 L969.2,875.2 L970.4,884.1 M978.9,882.5 L980.5,874.2 L982.4,882.5 M986.2,882.2 L987.7,874.7 L989.5,882.2 M998.5,881.9 L999.3,873.7 L1000.7,881.9 M1004.9,881.6 L1006.7,874.0 L1007.9,881.6 M1018.1,881.7 L1018.5,874.3 L1020.3,881.7 M1025.1,881.9 L1026.5,873.4 L1027.5,881.9 M1034.8,882.1 L1036.2,873.4 L1036.6,882.1 M1044.5,882.3 L1045.9,873.1 L1046.7,882.3 M1056.7,882.5 L1057.1,874.3 L1057.7,882.5 M1069.6,882.8 L1070.4,873.8 L1071.4,882.8 M1078.4,883.0 L1079.2,875.9 L1080.1,883.0 M1087.6,883.3 L1089.4,876.1 L1090.5,883.3 M1096.0,883.4 L1096.5,874.4 L1098.0,883.4 M1106.1,883.5 L1107.0,875.0 L1108.9,883.5 M1115.1,883.5 L1116.4,876.3 L1118.0,883.5 M1123.6,883.6 L1125.2,875.0 L1125.7,883.6 M1137.8,883.6 L1139.0,875.7 L1139.8,883.6 M1151.2,883.6 L1152.3,874.8 L1153.2,883.6 M1164.8,883.7 L1165.5,875.8 L1165.8,883.7 M1177.7,883.7 L1179.5,873.9 L1181.5,883.7 M1188.5,883.7 L1189.9,873.8 L1190.7,883.7 M1198.8,883.7 L1199.7,875.9 L1200.5,883.7 M1209.1,883.8 L1209.5,873.7 L1210.6,883.8 M1222.2,883.8 L1222.6,874.3 L1224.3,883.8 M1230.7,883.8 L1232.1,874.9 L1233.9,883.8 M1245.9,883.9 L1246.4,874.5 L1247.3,883.9 M1255.0,883.9 L1255.7,876.7 L1256.4,883.9 M1268.7,883.9 L1270.5,875.1 L1272.6,883.9 M1283.5,884.0 L1284.4,874.7 L1285.3,884.0 M1293.9,884.0 L1294.7,874.3 L1296.0,884.0 M1306.6,884.0 L1308.0,876.8 L1308.4,884.0 M1315.6,884.0 L1317.1,875.0 L1319.1,884.0 M1327.6,884.0 L1329.3,874.2 L1330.0,884.0 M1342.5,884.0 L1344.1,876.9 L1345.1,884.0 M1351.4,884.0 L1353.0,876.1 L1354.9,884.0 M1362.9,884.0 L1363.8,874.2 L1365.6,884.0 M1377.3,884.0 L1378.3,874.9 L1379.1,884.0 M1384.6,884.0 L1386.4,874.4 L1387.1,884.0 M1392.7,884.0 L1394.5,874.1 L1395.8,884.0 M1400.9,884.0 L1401.7,874.5 L1402.9,884.0 M1408.8,884.0 L1410.2,874.3 L1410.5,884.0 M1420.9,884.0 L1422.5,876.4 L1423.3,884.0 M1432.9,884.0 L1433.8,875.0 L1434.4,884.0 M1442.1,884.0 L1443.9,876.9 L1444.7,884.0 M1449.8,884.0 L1450.9,875.7 L1452.4,884.0 M1461.3,884.0 L1461.6,876.9 L1463.6,884.0 M1472.6,884.0 L1473.3,875.9 L1474.8,884.0 M1486.1,884.0 L1486.8,875.2 L1487.6,884.0 M1499.1,884.0 L1500.6,875.9 L1501.0,884.0 M1510.4,884.0 L1512.3,874.2 L1514.1,884.0 M1521.1,884.0 L1522.3,876.1 L1523.4,884.0 M1532.4,884.0 L1534.3,875.9 L1536.4,884.0 M1542.9,884.0 L1544.8,874.9 L1546.9,884.0 M1555.2,884.0 L1555.5,876.2 L1555.9,884.0 M1565.3,884.0 L1566.4,876.7 L1568.3,884.0 M1573.9,884.0 L1575.9,875.5 L1577.0,884.0 M203.0,910.5 L203.7,918.3 L205.4,910.5 M213.8,910.5 L214.7,918.1 L216.1,910.5 M223.7,910.5 L224.5,919.7 L225.3,910.5 M233.4,910.5 L234.0,920.3 L234.6,910.5 M239.9,910.5 L241.7,919.7 L242.5,910.5 M255.5,910.5 L256.6,919.7 L257.7,910.5 M268.8,910.5 L270.4,919.4 L271.0,910.5 M281.0,910.5 L281.9,920.2 L282.7,910.5 M290.1,910.5 L291.0,917.9 L291.7,910.5 M297.1,910.5 L298.1,918.8 L299.6,910.5 M306.8,910.5 L307.3,920.8 L308.5,910.5 M314.1,910.5 L315.0,918.9 L316.1,910.5 M322.3,910.4 L323.8,918.6 L324.6,910.4 M331.9,910.4 L333.0,917.7 L333.6,910.4 M344.7,910.4 L345.4,919.0 L346.8,910.4 M359.1,910.4 L360.2,919.0 L361.6,910.4 M370.5,910.4 L371.8,921.0 L372.2,910.4 M382.8,910.4 L383.8,919.4 L385.3,910.4 M396.5,910.4 L397.2,918.8 L397.6,910.4 M407.0,910.4 L407.4,919.5 L409.4,910.4 M417.9,910.4 L419.1,918.2 L420.7,910.4 M428.6,910.4 L430.4,918.5 L432.0,910.4 M444.0,910.4 L445.3,918.6 L445.8,910.4 M453.0,910.4 L455.0,920.2 L456.8,910.4 M462.0,910.4 L463.5,918.3 L465.5,910.4 M471.6,910.4 L472.5,917.8 L473.4,910.4 M480.4,910.4 L481.1,917.6 L483.0,910.4 M493.0,910.4 L494.4,920.2 L495.6,910.4 M504.1,910.4 L504.7,918.3 L505.0,910.4 M515.0,910.4 L516.0,918.5 L517.9,910.4 M521.5,910.4 L523.2,917.6 L524.3,910.4 M533.4,910.4 L535.1,919.4 L537.0,910.4 M547.3,910.4 L548.6,919.6 L549.2,910.4 M559.4,910.4 L561.1,919.1 L561.6,910.4 M575.0,910.3 L575.5,920.5 L577.4,910.3 M588.9,910.3 L589.7,917.4 L591.0,910.3 M602.9,910.3 L603.5,920.2 L605.2,910.3 M614.8,910.3 L616.8,917.5 L617.6,910.3 M623.1,910.3 L624.6,919.8 L626.7,910.3 M632.4,910.3 L633.1,917.8 L635.1,910.3 M644.8,910.3 L646.6,920.8 L648.7,910.3 M658.5,910.3 L660.1,919.0 L661.3,910.3 M672.9,910.3 L673.6,917.4 L674.2,910.3 M685.4,910.3 L686.7,917.3 L688.6,910.3 M698.6,910.3 L699.2,919.8 L700.4,910.3 M706.2,910.3 L706.6,918.7 L707.5,910.3 M716.8,910.3 L717.6,919.7 L719.3,910.3 M727.2,910.2 L728.8,919.4 L730.9,910.2 M740.6,910.2 L742.3,920.6 L744.0,910.2 M754.9,910.2 L755.9,917.7 L757.1,910.2 M768.9,910.1 L770.6,920.2 L771.7,910.1 M782.6,910.1 L783.9,919.4 L784.6,910.1 M796.7,910.1 L797.9,917.2 L799.4,910.1 M809.5,910.0 L810.3,918.2 L811.2,910.0 M821.4,910.0 L823.4,920.3 L824.4,910.0 M833.8,866.0 L834.5,873.4 L835.0,866.0 M845.8,867.2 L846.4,875.2 L847.5,867.2 M855.1,877.1 L857.1,884.3 L857.6,877.1 M868.3,884.7 L868.8,895.3 L869.5,884.7 M880.7,890.7 L882.2,900.6 L884.0,890.7 M893.8,894.1 L894.5,903.9 L896.3,894.1 M907.3,894.4 L908.9,902.1 L909.4,894.4 M917.7,892.8 L919.2,903.4 L919.9,892.8 M931.0,890.0 L932.7,899.2 L934.4,890.0 M940.0,888.3 L941.2,895.9 L941.5,888.3 M949.6,886.9 L950.5,896.3 L951.4,886.9 M959.4,885.5 L960.1,895.4 L962.0,885.5 M972.2,883.5 L973.4,891.0 L974.6,883.5 M983.8,882.3 L985.4,891.5 L985.8,882.3 M996.7,881.9 L998.0,889.5 L998.4,881.9 M1012.1,881.6 L1012.5,888.6 L1013.0,881.6 M1018.1,881.7 L1020.1,888.7 L1021.2,881.7 M1030.8,882.0 L1031.1,892.3 L1032.7,882.0 M1039.8,882.2 L1041.1,891.6 L1042.9,882.2 M1053.4,882.5 L1054.2,893.0 L1056.2,882.5 M1064.1,882.7 L1066.2,889.9 L1067.1,882.7 M1074.0,883.0 L1075.6,891.2 L1076.8,883.0 M1085.0,883.2 L1086.0,893.4 L1086.9,883.2 M1097.9,883.5 L1098.7,893.4 L1100.5,883.5 M1105.0,883.5 L1106.4,893.4 L1107.7,883.5 M1118.0,883.5 L1118.7,892.3 L1119.6,883.5 M1124.6,883.6 L1126.4,891.7 L1127.2,883.6 M1140.1,883.6 L1141.3,892.7 L1142.8,883.6 M1151.8,883.6 L1152.5,894.1 L1154.5,883.6 M1162.5,883.7 L1164.3,892.7 L1164.6,883.7 M1177.7,883.7 L1178.6,890.9 L1179.2,883.7 M1185.3,883.7 L1187.2,891.1 L1188.8,883.7 M1196.5,883.7 L1197.5,894.0 L1199.0,883.7 M1203.5,883.8 L1204.6,891.6 L1205.3,883.8 M1216.0,883.8 L1217.9,892.0 L1218.5,883.8 M1228.1,883.8 L1229.1,893.3 L1230.1,883.8 M1237.5,883.8 L1238.1,891.4 L1239.5,883.8 M1249.3,883.9 L1251.2,890.9 L1252.2,883.9 M1258.3,883.9 L1258.7,891.6 L1260.5,883.9 M1270.3,883.9 L1270.8,891.3 L1271.4,883.9 M1280.3,884.0 L1282.3,892.7 L1284.1,884.0 M1288.6,884.0 L1289.9,892.7 L1290.9,884.0 M1296.7,884.0 L1297.4,892.0 L1299.4,884.0 M1310.4,884.0 L1311.3,892.2 L1313.2,884.0 M1322.0,884.0 L1323.2,894.2 L1324.1,884.0 M1332.8,884.0 L1333.6,891.0 L1334.1,884.0 M1342.4,884.0 L1343.8,893.5 L1345.1,884.0 M1352.7,884.0 L1354.0,894.3 L1355.7,884.0 M1364.5,884.0 L1365.5,894.4 L1366.9,884.0 M1374.5,884.0 L1375.8,893.5 L1376.5,884.0 M1387.0,884.0 L1387.9,893.4 L1388.4,884.0 M1396.5,884.0 L1396.8,893.9 L1397.6,884.0 M1409.5,884.0 L1410.5,891.3 L1411.1,884.0 M1423.8,884.0 L1424.7,891.8 L1426.7,884.0 M1438.4,884.0 L1439.2,893.6 L1440.7,884.0 M1445.3,884.0 L1447.0,892.8 L1448.8,884.0 M1454.0,884.0 L1455.1,891.3 L1456.5,884.0 M1461.3,884.0 L1462.4,891.8 L1464.3,884.0 M1471.4,884.0 L1472.3,891.3 L1472.9,884.0 M1486.0,884.0 L1487.3,891.2 L1488.6,884.0 M1496.5,884.0 L1498.2,891.3 L1499.4,884.0 M1506.3,884.0 L1507.9,892.8 L1509.1,884.0 M1521.2,884.0 L1522.2,891.1 L1523.1,884.0 M1534.9,884.0 L1536.9,891.9 L1537.6,884.0 M1547.7,884.0 L1548.8,891.5 L1550.7,884.0 M1562.0,884.0 L1563.2,893.1 L1564.2,884.0 M1576.1,884.0 L1577.6,893.3 L1578.6,884.0 M829.8,919 L829.9,868 L833,861" fill="none" stroke="#ff00ff" stroke-width="6.5" stroke-linejoin="round" stroke-linecap="butt"/></g>
<!-- event marker -->
<line x1="824.2" y1="78.2" x2="824.2" y2="1036" stroke="#000" stroke-width="6" stroke-linecap="round" stroke-dasharray="33.5 25.1"/>
<!-- annotation -->
<g shape-rendering="crispEdges"><rect x="952" y="917" width="299" height="69" fill="#000"/><rect x="954" y="918" width="295" height="66" fill="#fff"/></g>
<polygon points="835.0,985.2 858.8,961.7 857.3,971.4 857.5,974.4 953.0,942.4 953.0,949.0 859.5,980.3 861.1,982.8 868.1,989.6" fill="#000"/>
<!-- labels -->
<text class="tk" transform="translate(177.4,243.5) scale(1.06,1)" font-size="60" text-anchor="end">0</text>
<text class="tk" transform="translate(175.5,421.5) scale(1.06,1)" font-size="60" text-anchor="end">2</text>
<text class="tk" transform="translate(176.4,548.4) scale(0.94,1)" font-size="60" text-anchor="end">1.5</text>
<text class="tk" transform="translate(175.3,673.7) scale(0.97,1)" font-size="60" text-anchor="end">1</text>
<text class="tk" transform="translate(174.6,748.6) scale(1.06,1)" font-size="54" text-anchor="end">2</text>
<text class="tk" transform="translate(172.8,951.7) scale(0.97,1)" font-size="54" text-anchor="end">1</text>
<text class="tk" transform="translate(196.8,1095.5) scale(1.06,1)" font-size="60" text-anchor="middle">0</text>
<text class="tk" transform="translate(427.233,1095.5) scale(0.97,1)" font-size="60" text-anchor="middle">1</text>
<text class="tk" transform="translate(659.767,1095.5) scale(1.06,1)" font-size="60" text-anchor="middle">2</text>
<text class="tk" transform="translate(890.1,1095.5) scale(1.06,1)" font-size="60" text-anchor="middle">3</text>
<text class="tk" transform="translate(1123.43,1095.5) scale(0.99,1)" font-size="60" text-anchor="middle">4</text>
<text class="tk" transform="translate(1354.97,1095.5) scale(1.06,1)" font-size="60" text-anchor="middle">5</text>
<text class="tk" transform="translate(1587.1,1095.5) scale(1.06,1)" font-size="60" text-anchor="middle">6</text>
<text x="927.5" y="1158" font-size="66" text-anchor="middle">Time(s)</text>
<text transform="translate(83.4,589) rotate(-90) scale(0.967,1)" font-size="68" text-anchor="middle">Current(A)</text>
<text x="1139" y="177" font-size="66"><tspan font-style="italic">i</tspan><tspan font-size="43" dy="9" font-style="italic">d</tspan></text>
<text x="1139" y="493" font-size="66"><tspan font-style="italic">i</tspan><tspan font-size="43" dy="9" font-style="italic">q</tspan></text>
<text x="1161" y="826" font-size="66"><tspan font-style="italic">i</tspan><tspan font-size="43" dy="9">0</tspan></text>
<text class="an" x="991" y="967.8" font-size="51"><tspan font-style="italic">i</tspan><tspan font-size="35" dy="8" font-weight="normal">0</tspan><tspan dy="-8" dx="0.15" letter-spacing="0.7"> changes</tspan></text>
</svg>
</body>
</html>
